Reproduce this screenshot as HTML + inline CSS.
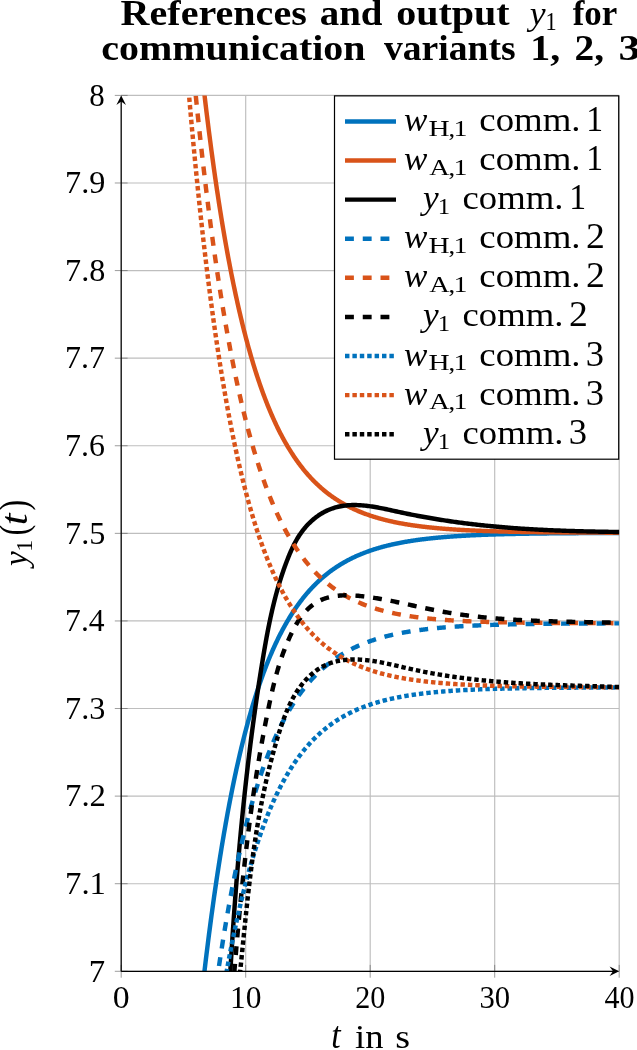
<!DOCTYPE html>
<html><head><meta charset="utf-8"><title>References and output</title>
<style>html,body{margin:0;padding:0;background:#fff}svg{display:block}</style></head>
<body>
<svg width="637" height="1050" viewBox="0 0 637 1050">
<rect width="637" height="1050" fill="#fff"/>
<defs><clipPath id="c"><rect x="121.2" y="95.4" width="498.00000000000006" height="875.9"/></clipPath></defs>
<path d="M121.20 95.4 V971.3 M245.70 95.4 V971.3 M370.20 95.4 V971.3 M494.70 95.4 V971.3 M619.20 95.4 V971.3 M121.2 971.30 H619.2 M121.2 883.71 H619.2 M121.2 796.12 H619.2 M121.2 708.53 H619.2 M121.2 620.94 H619.2 M121.2 533.35 H619.2 M121.2 445.76 H619.2 M121.2 358.17 H619.2 M121.2 270.58 H619.2 M121.2 182.99 H619.2 M121.2 95.40 H619.2" stroke="#bebebe" stroke-width="1.15" fill="none"/>
<path d="M121.20 964.9 V977.6999999999999 M245.70 964.9 V977.6999999999999 M370.20 964.9 V977.6999999999999 M494.70 964.9 V977.6999999999999 M619.20 964.9 V977.6999999999999 M114.8 971.30 H127.60000000000001 M114.8 883.71 H127.60000000000001 M114.8 796.12 H127.60000000000001 M114.8 708.53 H127.60000000000001 M114.8 620.94 H127.60000000000001 M114.8 533.35 H127.60000000000001 M114.8 445.76 H127.60000000000001 M114.8 358.17 H127.60000000000001 M114.8 270.58 H127.60000000000001 M114.8 182.99 H127.60000000000001 M114.8 95.40 H127.60000000000001" stroke="#5a5a5a" stroke-width="0.6" fill="none"/>
<g clip-path="url(#c)" fill="none" stroke-width="4.45" stroke-linejoin="round">
<path d="M195.28 1056.34 L195.90 1050.08 L196.52 1043.90 L197.15 1037.79 L197.77 1031.76 L198.39 1025.79 L199.01 1019.90 L199.64 1014.08 L200.26 1008.32 L200.88 1002.64 L201.50 997.03 L202.12 991.48 L202.75 985.99 L203.37 980.58 L203.99 975.23 L204.62 969.94 L205.24 964.71 L205.86 959.55 L206.48 954.45 L207.11 949.41 L207.73 944.43 L208.35 939.51 L208.97 934.65 L209.60 929.85 L210.22 925.10 L210.84 920.41 L211.46 915.78 L212.09 911.20 L212.71 906.68 L213.33 902.21 L213.95 897.80 L214.58 893.43 L215.20 889.12 L215.82 884.86 L216.44 880.66 L217.06 876.50 L217.69 872.39 L218.31 868.33 L218.93 864.32 L219.56 860.36 L220.18 856.44 L220.80 852.58 L221.42 848.75 L222.05 844.98 L222.67 841.25 L223.29 837.56 L223.91 833.92 L224.54 830.32 L225.16 826.76 L225.78 823.25 L226.40 819.78 L227.03 816.35 L227.65 812.96 L228.27 809.61 L228.89 806.30 L229.52 803.03 L230.14 799.80 L230.76 796.61 L231.38 793.46 L232.01 790.34 L232.63 787.27 L233.25 784.22 L233.87 781.22 L234.50 778.25 L235.12 775.32 L235.74 772.42 L236.36 769.55 L236.99 766.72 L237.61 763.93 L238.23 761.17 L238.85 758.44 L239.48 755.74 L240.10 753.08 L240.72 750.44 L241.34 747.84 L241.97 745.27 L242.59 742.73 L243.21 740.22 L243.83 737.74 L244.46 735.29 L245.08 732.87 L245.70 730.48 L246.32 728.12 L246.95 725.79 L247.57 723.48 L248.19 721.20 L248.81 718.95 L249.44 716.72 L250.06 714.53 L250.68 712.35 L251.30 710.21 L251.93 708.09 L252.55 705.99 L253.17 703.92 L253.79 701.88 L254.42 699.86 L255.04 697.86 L255.66 695.89 L256.28 693.94 L256.91 692.01 L257.53 690.11 L258.15 688.23 L258.77 686.37 L259.40 684.54 L260.02 682.72 L260.64 680.93 L261.26 679.16 L261.88 677.41 L262.51 675.68 L263.13 673.98 L263.75 672.29 L264.38 670.62 L265.00 668.98 L265.62 667.35 L266.24 665.74 L266.87 664.15 L267.49 662.58 L268.11 661.03 L268.73 659.50 L269.36 657.98 L269.98 656.49 L270.60 655.01 L271.22 653.55 L271.85 652.11 L272.47 650.68 L273.09 649.27 L273.71 647.88 L274.34 646.51 L274.96 645.15 L275.58 643.80 L276.20 642.48 L276.83 641.17 L277.45 639.87 L278.07 638.59 L278.69 637.33 L279.32 636.08 L279.94 634.84 L280.56 633.62 L281.18 632.42 L281.81 631.23 L282.43 630.05 L283.05 628.89 L283.67 627.74 L284.30 626.61 L284.92 625.49 L285.54 624.38 L286.16 623.29 L286.79 622.20 L287.41 621.14 L288.03 620.08 L288.65 619.04 L289.28 618.01 L289.90 616.99 L290.52 615.98 L291.14 614.99 L291.77 614.01 L292.39 613.04 L293.01 612.08 L293.63 611.13 L294.25 610.19 L294.88 609.27 L295.50 608.36 L296.12 607.45 L296.75 606.56 L297.37 605.68 L297.99 604.81 L298.61 603.95 L299.24 603.10 L299.86 602.26 L300.48 601.43 L301.10 600.61 L301.73 599.80 L302.35 599.00 L302.97 598.21 L303.59 597.42 L304.22 596.65 L304.84 595.89 L305.46 595.14 L306.08 594.39 L306.71 593.66 L307.33 592.93 L307.95 592.21 L308.57 591.50 L309.20 590.80 L309.82 590.11 L310.44 589.42 L311.06 588.74 L311.69 588.08 L312.31 587.42 L312.93 586.76 L313.55 586.12 L314.18 585.48 L314.80 584.85 L315.42 584.23 L316.04 583.62 L316.67 583.01 L317.29 582.41 L317.91 581.82 L318.53 581.23 L319.16 580.65 L319.78 580.08 L320.40 579.52 L321.02 578.96 L321.65 578.41 L322.27 577.86 L322.89 577.32 L323.51 576.79 L324.14 576.26 L324.76 575.75 L325.38 575.23 L326.00 574.73 L326.63 574.22 L327.25 573.73 L327.87 573.24 L328.49 572.76 L329.12 572.28 L329.74 571.81 L330.36 571.34 L330.98 570.88 L331.61 570.43 L332.23 569.98 L332.85 569.53 L333.47 569.10 L334.10 568.66 L334.72 568.23 L335.34 567.81 L335.96 567.39 L336.59 566.98 L337.21 566.57 L337.83 566.17 L338.45 565.77 L339.08 565.37 L339.70 564.99 L340.32 564.60 L340.94 564.22 L341.56 563.85 L342.19 563.48 L342.81 563.11 L343.43 562.75 L344.06 562.39 L344.68 562.04 L345.30 561.69 L345.92 561.34 L346.55 561.00 L347.17 560.66 L347.79 560.33 L348.41 560.00 L349.04 559.68 L349.66 559.36 L350.28 559.04 L350.90 558.73 L351.53 558.42 L352.15 558.11 L352.77 557.81 L353.39 557.51 L354.01 557.21 L354.64 556.92 L355.26 556.64 L355.88 556.35 L356.51 556.07 L357.13 555.79 L357.75 555.52 L358.37 555.25 L359.00 554.98 L359.62 554.71 L360.24 554.45 L360.86 554.19 L361.49 553.94 L362.11 553.69 L362.73 553.44 L363.35 553.19 L363.98 552.95 L364.60 552.71 L365.22 552.47 L365.84 552.23 L366.47 552.00 L367.09 551.77 L367.71 551.55 L368.33 551.32 L368.96 551.10 L369.58 550.88 L370.20 550.67 L370.82 550.45 L371.45 550.24 L372.07 550.03 L372.69 549.83 L373.31 549.63 L373.94 549.42 L374.56 549.23 L375.18 549.03 L375.80 548.84 L376.43 548.64 L377.05 548.46 L377.67 548.27 L378.29 548.08 L378.92 547.90 L379.54 547.72 L380.16 547.54 L380.78 547.37 L381.41 547.19 L382.03 547.02 L382.65 546.85 L383.27 546.68 L383.90 546.52 L384.52 546.36 L385.14 546.19 L385.76 546.03 L386.39 545.88 L387.01 545.72 L387.63 545.57 L388.25 545.41 L388.88 545.26 L389.50 545.11 L390.12 544.97 L390.74 544.82 L391.37 544.68 L391.99 544.54 L392.61 544.40 L393.23 544.26 L393.86 544.12 L394.48 543.99 L395.10 543.85 L395.72 543.72 L396.35 543.59 L396.97 543.46 L397.59 543.34 L398.21 543.21 L398.84 543.09 L399.46 542.96 L400.08 542.84 L400.70 542.72 L401.33 542.60 L401.95 542.49 L402.57 542.37 L403.19 542.26 L403.82 542.14 L404.44 542.03 L405.06 541.92 L405.68 541.81 L406.31 541.71 L406.93 541.60 L407.55 541.50 L408.17 541.39 L408.80 541.29 L409.42 541.19 L410.04 541.09 L410.66 540.99 L411.29 540.89 L411.91 540.80 L412.53 540.70 L413.15 540.61 L413.78 540.51 L414.40 540.42 L415.02 540.33 L415.64 540.24 L416.27 540.15 L416.89 540.06 L417.51 539.98 L418.13 539.89 L418.76 539.81 L419.38 539.72 L420.00 539.64 L420.62 539.56 L421.25 539.48 L421.87 539.40 L422.49 539.32 L423.11 539.24 L423.74 539.17 L424.36 539.09 L424.98 539.02 L425.60 538.94 L426.23 538.87 L426.85 538.80 L427.47 538.73 L428.09 538.66 L428.72 538.59 L429.34 538.52 L429.96 538.45 L430.58 538.38 L431.21 538.32 L431.83 538.25 L432.45 538.18 L433.07 538.12 L433.70 538.06 L434.32 537.99 L434.94 537.93 L435.56 537.87 L436.19 537.81 L436.81 537.75 L437.43 537.69 L438.05 537.64 L438.68 537.58 L439.30 537.52 L439.92 537.46 L440.54 537.41 L441.17 537.35 L441.79 537.30 L442.41 537.25 L443.03 537.19 L443.66 537.14 L444.28 537.09 L444.90 537.04 L445.52 536.99 L446.15 536.94 L446.77 536.89 L447.39 536.84 L448.01 536.79 L448.64 536.75 L449.26 536.70 L449.88 536.65 L450.50 536.61 L451.13 536.56 L451.75 536.52 L452.37 536.47 L452.99 536.43 L453.62 536.39 L454.24 536.34 L454.86 536.30 L455.48 536.26 L456.11 536.22 L456.73 536.18 L457.35 536.14 L457.97 536.10 L458.60 536.06 L459.22 536.02 L459.84 535.98 L460.46 535.94 L461.09 535.91 L461.71 535.87 L462.33 535.83 L462.95 535.80 L463.58 535.76 L464.20 535.73 L464.82 535.69 L465.44 535.66 L466.07 535.62 L466.69 535.59 L467.31 535.56 L467.93 535.53 L468.56 535.49 L469.18 535.46 L469.80 535.43 L470.42 535.40 L471.05 535.37 L471.67 535.34 L472.29 535.31 L472.91 535.28 L473.54 535.25 L474.16 535.22 L474.78 535.19 L475.40 535.16 L476.03 535.13 L476.65 535.11 L477.27 535.08 L477.89 535.05 L478.52 535.03 L479.14 535.00 L479.76 534.97 L480.38 534.95 L481.01 534.92 L481.63 534.90 L482.25 534.87 L482.87 534.85 L483.50 534.82 L484.12 534.80 L484.74 534.78 L485.36 534.75 L485.99 534.73 L486.61 534.71 L487.23 534.68 L487.85 534.66 L488.48 534.64 L489.10 534.62 L489.72 534.60 L490.34 534.58 L490.97 534.56 L491.59 534.53 L492.21 534.51 L492.83 534.49 L493.46 534.47 L494.08 534.45 L494.70 534.43 L495.32 534.42 L495.95 534.40 L496.57 534.38 L497.19 534.36 L497.81 534.34 L498.44 534.32 L499.06 534.30 L499.68 534.29 L500.30 534.27 L500.93 534.25 L501.55 534.24 L502.17 534.22 L502.79 534.20 L503.42 534.19 L504.04 534.17 L504.66 534.15 L505.28 534.14 L505.91 534.12 L506.53 534.11 L507.15 534.09 L507.77 534.08 L508.40 534.06 L509.02 534.05 L509.64 534.03 L510.26 534.02 L510.89 534.00 L511.51 533.99 L512.13 533.97 L512.75 533.96 L513.38 533.95 L514.00 533.93 L514.62 533.92 L515.24 533.91 L515.87 533.89 L516.49 533.88 L517.11 533.87 L517.73 533.86 L518.36 533.84 L518.98 533.83 L519.60 533.82 L520.22 533.81 L520.85 533.80 L521.47 533.78 L522.09 533.77 L522.71 533.76 L523.34 533.75 L523.96 533.74 L524.58 533.73 L525.20 533.72 L525.83 533.71 L526.45 533.70 L527.07 533.69 L527.69 533.68 L528.32 533.67 L528.94 533.66 L529.56 533.65 L530.18 533.64 L530.81 533.63 L531.43 533.62 L532.05 533.61 L532.67 533.60 L533.30 533.59 L533.92 533.58 L534.54 533.57 L535.16 533.56 L535.79 533.55 L536.41 533.54 L537.03 533.54 L537.65 533.53 L538.28 533.52 L538.90 533.51 L539.52 533.50 L540.14 533.49 L540.77 533.49 L541.39 533.48 L542.01 533.47 L542.63 533.46 L543.25 533.45 L543.88 533.45 L544.50 533.44 L545.12 533.43 L545.75 533.43 L546.37 533.42 L546.99 533.41 L547.61 533.40 L548.24 533.40 L548.86 533.39 L549.48 533.38 L550.10 533.38 L550.73 533.37 L551.35 533.36 L551.97 533.36 L552.59 533.35 L553.22 533.34 L553.84 533.34 L554.46 533.33 L555.08 533.33 L555.71 533.32 L556.33 533.31 L556.95 533.31 L557.57 533.30 L558.20 533.30 L558.82 533.29 L559.44 533.29 L560.06 533.28 L560.69 533.27 L561.31 533.27 L561.93 533.26 L562.55 533.26 L563.18 533.25 L563.80 533.25 L564.42 533.24 L565.04 533.24 L565.67 533.23 L566.29 533.23 L566.91 533.22 L567.53 533.22 L568.16 533.21 L568.78 533.21 L569.40 533.20 L570.02 533.20 L570.65 533.20 L571.27 533.19 L571.89 533.19 L572.51 533.18 L573.14 533.18 L573.76 533.17 L574.38 533.17 L575.00 533.17 L575.63 533.16 L576.25 533.16 L576.87 533.15 L577.49 533.15 L578.12 533.15 L578.74 533.14 L579.36 533.14 L579.98 533.13 L580.61 533.13 L581.23 533.13 L581.85 533.12 L582.47 533.12 L583.10 533.12 L583.72 533.11 L584.34 533.11 L584.96 533.11 L585.59 533.10 L586.21 533.10 L586.83 533.10 L587.45 533.09 L588.08 533.09 L588.70 533.09 L589.32 533.08 L589.94 533.08 L590.57 533.08 L591.19 533.07 L591.81 533.07 L592.43 533.07 L593.06 533.07 L593.68 533.06 L594.30 533.06 L594.92 533.06 L595.55 533.05 L596.17 533.05 L596.79 533.05 L597.41 533.05 L598.04 533.04 L598.66 533.04 L599.28 533.04 L599.90 533.04 L600.53 533.03 L601.15 533.03 L601.77 533.03 L602.39 533.03 L603.02 533.02 L603.64 533.02 L604.26 533.02 L604.88 533.02 L605.51 533.01 L606.13 533.01 L606.75 533.01 L607.37 533.01 L608.00 533.00 L608.62 533.00 L609.24 533.00 L609.86 533.00 L610.49 533.00 L611.11 532.99 L611.73 532.99 L612.35 532.99 L612.98 532.99 L613.60 532.99 L614.22 532.98 L614.84 532.98 L615.47 532.98 L616.09 532.98 L616.71 532.98 L617.33 532.98 L617.96 532.97 L618.58 532.97 L619.20 532.97" stroke="#0072BD"/>
<path d="M195.28 8.79 L195.90 15.11 L196.52 21.37 L197.15 27.54 L197.77 33.64 L198.39 39.67 L199.01 45.63 L199.64 51.51 L200.26 57.32 L200.88 63.07 L201.50 68.74 L202.12 74.34 L202.75 79.88 L203.37 85.35 L203.99 90.76 L204.62 96.09 L205.24 101.37 L205.86 106.58 L206.48 111.73 L207.11 116.81 L207.73 121.84 L208.35 126.80 L208.97 131.70 L209.60 136.55 L210.22 141.33 L210.84 146.06 L211.46 150.73 L212.09 155.35 L212.71 159.90 L213.33 164.41 L213.95 168.86 L214.58 173.25 L215.20 177.59 L215.82 181.88 L216.44 186.12 L217.06 190.31 L217.69 194.45 L218.31 198.53 L218.93 202.57 L219.56 206.56 L220.18 210.50 L220.80 214.39 L221.42 218.24 L222.05 222.03 L222.67 225.79 L223.29 229.50 L223.91 233.16 L224.54 236.78 L225.16 240.35 L225.78 243.89 L226.40 247.37 L227.03 250.82 L227.65 254.23 L228.27 257.59 L228.89 260.92 L229.52 264.20 L230.14 267.44 L230.76 270.65 L231.38 273.81 L232.01 276.94 L232.63 280.03 L233.25 283.09 L233.87 286.10 L234.50 289.08 L235.12 292.02 L235.74 294.93 L236.36 297.81 L236.99 300.64 L237.61 303.45 L238.23 306.22 L238.85 308.95 L239.48 311.66 L240.10 314.33 L240.72 316.97 L241.34 319.57 L241.97 322.15 L242.59 324.69 L243.21 327.21 L243.83 329.69 L244.46 332.14 L245.08 334.57 L245.70 336.96 L246.32 339.33 L246.95 341.66 L247.57 343.97 L248.19 346.25 L248.81 348.51 L249.44 350.73 L250.06 352.93 L250.68 355.10 L251.30 357.25 L251.93 359.37 L252.55 361.46 L253.17 363.53 L253.79 365.58 L254.42 367.60 L255.04 369.59 L255.66 371.56 L256.28 373.51 L256.91 375.44 L257.53 377.34 L258.15 379.21 L258.77 381.07 L259.40 382.90 L260.02 384.71 L260.64 386.50 L261.26 388.27 L261.88 390.01 L262.51 391.74 L263.13 393.44 L263.75 395.13 L264.38 396.79 L265.00 398.43 L265.62 400.05 L266.24 401.66 L266.87 403.24 L267.49 404.81 L268.11 406.35 L268.73 407.88 L269.36 409.39 L269.98 410.88 L270.60 412.35 L271.22 413.81 L271.85 415.24 L272.47 416.66 L273.09 418.07 L273.71 419.45 L274.34 420.82 L274.96 422.18 L275.58 423.51 L276.20 424.83 L276.83 426.14 L277.45 427.42 L278.07 428.70 L278.69 429.95 L279.32 431.20 L279.94 432.42 L280.56 433.64 L281.18 434.83 L281.81 436.02 L282.43 437.19 L283.05 438.34 L283.67 439.48 L284.30 440.61 L284.92 441.72 L285.54 442.82 L286.16 443.91 L286.79 444.98 L287.41 446.05 L288.03 447.09 L288.65 448.13 L289.28 449.15 L289.90 450.16 L290.52 451.16 L291.14 452.15 L291.77 453.12 L292.39 454.08 L293.01 455.03 L293.63 455.97 L294.25 456.90 L294.88 457.82 L295.50 458.72 L296.12 459.62 L296.75 460.50 L297.37 461.38 L297.99 462.24 L298.61 463.09 L299.24 463.93 L299.86 464.77 L300.48 465.59 L301.10 466.40 L301.73 467.20 L302.35 467.99 L302.97 468.78 L303.59 469.55 L304.22 470.32 L304.84 471.07 L305.46 471.82 L306.08 472.55 L306.71 473.28 L307.33 474.00 L307.95 474.71 L308.57 475.41 L309.20 476.11 L309.82 476.79 L310.44 477.47 L311.06 478.14 L311.69 478.80 L312.31 479.45 L312.93 480.09 L313.55 480.73 L314.18 481.36 L314.80 481.98 L315.42 482.59 L316.04 483.20 L316.67 483.80 L317.29 484.39 L317.91 484.98 L318.53 485.55 L319.16 486.13 L319.78 486.69 L320.40 487.25 L321.02 487.80 L321.65 488.34 L322.27 488.88 L322.89 489.41 L323.51 489.93 L324.14 490.45 L324.76 490.96 L325.38 491.47 L326.00 491.97 L326.63 492.46 L327.25 492.95 L327.87 493.43 L328.49 493.91 L329.12 494.38 L329.74 494.84 L330.36 495.30 L330.98 495.75 L331.61 496.20 L332.23 496.64 L332.85 497.08 L333.47 497.51 L334.10 497.94 L334.72 498.36 L335.34 498.77 L335.96 499.19 L336.59 499.59 L337.21 499.99 L337.83 500.39 L338.45 500.78 L339.08 501.17 L339.70 501.55 L340.32 501.93 L340.94 502.30 L341.56 502.67 L342.19 503.03 L342.81 503.39 L343.43 503.75 L344.06 504.10 L344.68 504.45 L345.30 504.79 L345.92 505.13 L346.55 505.46 L347.17 505.79 L347.79 506.12 L348.41 506.44 L349.04 506.76 L349.66 507.08 L350.28 507.39 L350.90 507.69 L351.53 508.00 L352.15 508.30 L352.77 508.59 L353.39 508.89 L354.01 509.18 L354.64 509.46 L355.26 509.74 L355.88 510.02 L356.51 510.30 L357.13 510.57 L357.75 510.84 L358.37 511.10 L359.00 511.37 L359.62 511.63 L360.24 511.88 L360.86 512.13 L361.49 512.38 L362.11 512.63 L362.73 512.87 L363.35 513.12 L363.98 513.35 L364.60 513.59 L365.22 513.82 L365.84 514.05 L366.47 514.28 L367.09 514.50 L367.71 514.72 L368.33 514.94 L368.96 515.16 L369.58 515.37 L370.20 515.58 L370.82 515.79 L371.45 516.00 L372.07 516.20 L372.69 516.40 L373.31 516.60 L373.94 516.79 L374.56 516.99 L375.18 517.18 L375.80 517.37 L376.43 517.55 L377.05 517.74 L377.67 517.92 L378.29 518.10 L378.92 518.28 L379.54 518.45 L380.16 518.63 L380.78 518.80 L381.41 518.97 L382.03 519.14 L382.65 519.30 L383.27 519.46 L383.90 519.63 L384.52 519.79 L385.14 519.94 L385.76 520.10 L386.39 520.25 L387.01 520.40 L387.63 520.55 L388.25 520.70 L388.88 520.85 L389.50 520.99 L390.12 521.14 L390.74 521.28 L391.37 521.42 L391.99 521.55 L392.61 521.69 L393.23 521.82 L393.86 521.96 L394.48 522.09 L395.10 522.22 L395.72 522.35 L396.35 522.47 L396.97 522.60 L397.59 522.72 L398.21 522.84 L398.84 522.96 L399.46 523.08 L400.08 523.20 L400.70 523.32 L401.33 523.43 L401.95 523.55 L402.57 523.66 L403.19 523.77 L403.82 523.88 L404.44 523.99 L405.06 524.09 L405.68 524.20 L406.31 524.30 L406.93 524.40 L407.55 524.51 L408.17 524.61 L408.80 524.71 L409.42 524.80 L410.04 524.90 L410.66 525.00 L411.29 525.09 L411.91 525.18 L412.53 525.28 L413.15 525.37 L413.78 525.46 L414.40 525.55 L415.02 525.64 L415.64 525.72 L416.27 525.81 L416.89 525.89 L417.51 525.98 L418.13 526.06 L418.76 526.14 L419.38 526.22 L420.00 526.30 L420.62 526.38 L421.25 526.46 L421.87 526.53 L422.49 526.61 L423.11 526.69 L423.74 526.76 L424.36 526.83 L424.98 526.91 L425.60 526.98 L426.23 527.05 L426.85 527.12 L427.47 527.19 L428.09 527.25 L428.72 527.32 L429.34 527.39 L429.96 527.45 L430.58 527.52 L431.21 527.58 L431.83 527.65 L432.45 527.71 L433.07 527.77 L433.70 527.83 L434.32 527.89 L434.94 527.95 L435.56 528.01 L436.19 528.07 L436.81 528.13 L437.43 528.18 L438.05 528.24 L438.68 528.29 L439.30 528.35 L439.92 528.40 L440.54 528.46 L441.17 528.51 L441.79 528.56 L442.41 528.61 L443.03 528.66 L443.66 528.71 L444.28 528.76 L444.90 528.81 L445.52 528.86 L446.15 528.91 L446.77 528.96 L447.39 529.00 L448.01 529.05 L448.64 529.09 L449.26 529.14 L449.88 529.18 L450.50 529.23 L451.13 529.27 L451.75 529.31 L452.37 529.36 L452.99 529.40 L453.62 529.44 L454.24 529.48 L454.86 529.52 L455.48 529.56 L456.11 529.60 L456.73 529.64 L457.35 529.68 L457.97 529.72 L458.60 529.75 L459.22 529.79 L459.84 529.83 L460.46 529.86 L461.09 529.90 L461.71 529.93 L462.33 529.97 L462.95 530.00 L463.58 530.04 L464.20 530.07 L464.82 530.10 L465.44 530.14 L466.07 530.17 L466.69 530.20 L467.31 530.23 L467.93 530.26 L468.56 530.30 L469.18 530.33 L469.80 530.36 L470.42 530.39 L471.05 530.42 L471.67 530.44 L472.29 530.47 L472.91 530.50 L473.54 530.53 L474.16 530.56 L474.78 530.59 L475.40 530.61 L476.03 530.64 L476.65 530.67 L477.27 530.69 L477.89 530.72 L478.52 530.74 L479.14 530.77 L479.76 530.79 L480.38 530.82 L481.01 530.84 L481.63 530.87 L482.25 530.89 L482.87 530.91 L483.50 530.94 L484.12 530.96 L484.74 530.98 L485.36 531.00 L485.99 531.02 L486.61 531.05 L487.23 531.07 L487.85 531.09 L488.48 531.11 L489.10 531.13 L489.72 531.15 L490.34 531.17 L490.97 531.19 L491.59 531.21 L492.21 531.23 L492.83 531.25 L493.46 531.27 L494.08 531.29 L494.70 531.31 L495.32 531.32 L495.95 531.34 L496.57 531.36 L497.19 531.38 L497.81 531.40 L498.44 531.41 L499.06 531.43 L499.68 531.45 L500.30 531.46 L500.93 531.48 L501.55 531.50 L502.17 531.51 L502.79 531.53 L503.42 531.54 L504.04 531.56 L504.66 531.57 L505.28 531.59 L505.91 531.60 L506.53 531.62 L507.15 531.63 L507.77 531.65 L508.40 531.66 L509.02 531.68 L509.64 531.69 L510.26 531.70 L510.89 531.72 L511.51 531.73 L512.13 531.74 L512.75 531.76 L513.38 531.77 L514.00 531.78 L514.62 531.80 L515.24 531.81 L515.87 531.82 L516.49 531.83 L517.11 531.84 L517.73 531.86 L518.36 531.87 L518.98 531.88 L519.60 531.89 L520.22 531.90 L520.85 531.91 L521.47 531.92 L522.09 531.94 L522.71 531.95 L523.34 531.96 L523.96 531.97 L524.58 531.98 L525.20 531.99 L525.83 532.00 L526.45 532.01 L527.07 532.02 L527.69 532.03 L528.32 532.04 L528.94 532.05 L529.56 532.06 L530.18 532.06 L530.81 532.07 L531.43 532.08 L532.05 532.09 L532.67 532.10 L533.30 532.11 L533.92 532.12 L534.54 532.13 L535.16 532.14 L535.79 532.14 L536.41 532.15 L537.03 532.16 L537.65 532.17 L538.28 532.18 L538.90 532.18 L539.52 532.19 L540.14 532.20 L540.77 532.21 L541.39 532.21 L542.01 532.22 L542.63 532.23 L543.25 532.24 L543.88 532.24 L544.50 532.25 L545.12 532.26 L545.75 532.26 L546.37 532.27 L546.99 532.28 L547.61 532.28 L548.24 532.29 L548.86 532.30 L549.48 532.30 L550.10 532.31 L550.73 532.32 L551.35 532.32 L551.97 532.33 L552.59 532.33 L553.22 532.34 L553.84 532.35 L554.46 532.35 L555.08 532.36 L555.71 532.36 L556.33 532.37 L556.95 532.37 L557.57 532.38 L558.20 532.38 L558.82 532.39 L559.44 532.40 L560.06 532.40 L560.69 532.41 L561.31 532.41 L561.93 532.42 L562.55 532.42 L563.18 532.43 L563.80 532.43 L564.42 532.44 L565.04 532.44 L565.67 532.44 L566.29 532.45 L566.91 532.45 L567.53 532.46 L568.16 532.46 L568.78 532.47 L569.40 532.47 L570.02 532.48 L570.65 532.48 L571.27 532.48 L571.89 532.49 L572.51 532.49 L573.14 532.50 L573.76 532.50 L574.38 532.50 L575.00 532.51 L575.63 532.51 L576.25 532.52 L576.87 532.52 L577.49 532.52 L578.12 532.53 L578.74 532.53 L579.36 532.53 L579.98 532.54 L580.61 532.54 L581.23 532.54 L581.85 532.55 L582.47 532.55 L583.10 532.55 L583.72 532.56 L584.34 532.56 L584.96 532.56 L585.59 532.57 L586.21 532.57 L586.83 532.57 L587.45 532.58 L588.08 532.58 L588.70 532.58 L589.32 532.59 L589.94 532.59 L590.57 532.59 L591.19 532.59 L591.81 532.60 L592.43 532.60 L593.06 532.60 L593.68 532.60 L594.30 532.61 L594.92 532.61 L595.55 532.61 L596.17 532.61 L596.79 532.62 L597.41 532.62 L598.04 532.62 L598.66 532.62 L599.28 532.63 L599.90 532.63 L600.53 532.63 L601.15 532.63 L601.77 532.64 L602.39 532.64 L603.02 532.64 L603.64 532.64 L604.26 532.65 L604.88 532.65 L605.51 532.65 L606.13 532.65 L606.75 532.65 L607.37 532.66 L608.00 532.66 L608.62 532.66 L609.24 532.66 L609.86 532.66 L610.49 532.67 L611.11 532.67 L611.73 532.67 L612.35 532.67 L612.98 532.67 L613.60 532.68 L614.22 532.68 L614.84 532.68 L615.47 532.68 L616.09 532.68 L616.71 532.68 L617.33 532.69 L617.96 532.69 L618.58 532.69 L619.20 532.69" stroke="#D95319"/>
<path d="M225.78 1058.71 L225.85 1057.27 L225.92 1055.83 L225.99 1054.38 L226.05 1052.94 L226.12 1051.50 L226.19 1050.06 L226.26 1048.62 L226.33 1047.18 L226.40 1045.74 L226.46 1044.30 L226.53 1042.86 L226.60 1041.42 L226.67 1039.98 L226.74 1038.53 L226.81 1037.09 L226.88 1035.65 L226.96 1034.21 L227.03 1032.77 L227.10 1031.33 L227.17 1029.89 L227.24 1028.45 L227.31 1027.01 L227.39 1025.56 L227.46 1024.12 L227.53 1022.68 L227.61 1021.24 L227.68 1019.80 L227.75 1018.36 L227.83 1016.92 L227.90 1015.47 L227.98 1014.03 L228.05 1012.59 L228.13 1011.15 L228.20 1009.71 L228.28 1008.27 L228.36 1006.83 L228.43 1005.38 L228.51 1003.94 L228.59 1002.50 L228.66 1001.06 L228.74 999.62 L228.82 998.18 L228.90 996.73 L228.98 995.29 L229.06 993.85 L229.14 992.41 L229.22 990.97 L229.30 989.53 L229.38 988.08 L229.46 986.64 L229.54 985.20 L229.62 983.76 L229.70 982.32 L229.79 980.88 L229.87 979.43 L229.95 977.99 L230.04 976.55 L230.12 975.11 L230.21 973.67 L230.29 972.23 L230.38 970.78 L230.46 969.34 L230.55 967.90 L230.63 966.46 L230.72 965.02 L230.81 963.58 L230.89 962.13 L230.98 960.69 L231.07 959.25 L231.16 957.81 L231.25 956.37 L231.34 954.93 L231.43 953.48 L231.52 952.04 L231.61 950.60 L231.70 949.16 L231.79 947.72 L231.88 946.28 L231.98 944.84 L232.07 943.39 L232.16 941.95 L232.26 940.51 L232.35 939.07 L232.44 937.63 L232.54 936.19 L232.64 934.75 L232.73 933.31 L232.83 931.86 L232.92 930.42 L233.02 928.98 L233.12 927.54 L233.22 926.10 L233.32 924.66 L233.42 923.22 L233.52 921.78 L233.62 920.34 L233.72 918.89 L233.82 917.45 L233.92 916.01 L234.02 914.57 L234.13 913.13 L234.23 911.69 L234.33 910.25 L234.44 908.81 L234.54 907.37 L234.65 905.93 L234.75 904.49 L234.86 903.05 L234.96 901.61 L235.07 900.17 L235.18 898.72 L235.29 897.28 L235.40 895.84 L235.51 894.40 L235.62 892.96 L235.73 891.52 L235.84 890.08 L235.95 888.64 L236.06 887.20 L236.17 885.76 L236.29 884.32 L236.40 882.88 L236.52 881.44 L236.63 880.00 L236.75 878.56 L236.86 877.12 L236.98 875.68 L237.10 874.25 L237.21 872.81 L237.33 871.37 L237.45 869.93 L237.57 868.49 L237.69 867.05 L237.81 865.61 L237.93 864.17 L238.05 862.73 L238.18 861.29 L238.30 859.85 L238.42 858.41 L238.55 856.98 L238.67 855.54 L238.80 854.10 L238.92 852.66 L239.05 851.22 L239.18 849.78 L239.31 848.34 L239.43 846.91 L239.56 845.47 L239.69 844.03 L239.82 842.59 L239.95 841.15 L240.09 839.72 L240.22 838.28 L240.35 836.84 L240.49 835.40 L240.62 833.96 L240.75 832.53 L240.89 831.09 L241.03 829.65 L241.16 828.22 L241.30 826.78 L241.44 825.34 L241.58 823.90 L241.72 822.47 L241.86 821.03 L242.00 819.59 L242.14 818.16 L242.28 816.72 L242.43 815.28 L242.57 813.85 L242.71 812.41 L242.86 810.97 L243.00 809.54 L243.15 808.10 L243.30 806.67 L243.45 805.23 L243.59 803.79 L243.74 802.36 L243.89 800.92 L244.04 799.49 L244.20 798.05 L244.35 796.62 L244.50 795.18 L244.65 793.75 L244.81 792.31 L244.96 790.88 L245.12 789.44 L245.28 788.01 L245.43 786.57 L245.59 785.14 L245.75 783.70 L245.91 782.27 L246.07 780.84 L246.23 779.40 L246.39 777.97 L246.56 776.53 L246.72 775.10 L246.88 773.67 L247.05 772.23 L247.21 770.80 L247.38 769.37 L247.55 767.93 L247.72 766.50 L247.88 765.07 L248.05 763.63 L248.22 762.20 L248.40 760.77 L248.57 759.34 L248.74 757.91 L248.91 756.47 L249.09 755.04 L249.26 753.61 L249.44 752.18 L249.62 750.75 L249.79 749.31 L249.97 747.88 L250.15 746.45 L250.33 745.02 L250.51 743.59 L250.69 742.16 L250.88 740.73 L251.06 739.30 L251.24 737.87 L251.43 736.44 L251.62 735.01 L251.80 733.58 L251.99 732.15 L252.18 730.72 L252.37 729.29 L252.56 727.86 L252.75 726.43 L252.94 725.00 L253.13 723.57 L253.33 722.14 L253.52 720.71 L253.72 719.28 L253.91 717.85 L254.11 716.42 L254.31 715.00 L254.51 713.57 L254.71 712.14 L254.91 710.71 L255.11 709.28 L255.31 707.86 L255.52 706.43 L255.72 705.00 L255.92 703.57 L256.13 702.15 L256.34 700.72 L256.55 699.29 L256.75 697.87 L256.96 696.44 L257.17 695.01 L257.39 693.59 L257.60 692.16 L257.81 690.74 L258.03 689.31 L258.24 687.89 L258.46 686.46 L258.68 685.04 L258.89 683.61 L259.11 682.19 L259.33 680.76 L259.55 679.34 L259.78 677.91 L260.00 676.49 L260.22 675.06 L260.45 673.64 L260.67 672.22 L260.90 670.79 L261.13 669.37 L261.36 667.95 L261.59 666.52 L261.82 665.10 L262.05 663.68 L262.28 662.26 L262.52 660.83 L262.75 659.41 L262.99 657.99 L263.22 656.57 L263.46 655.15 L263.70 653.72 L263.94 652.30 L264.18 650.88 L264.43 649.46 L264.67 648.04 L264.92 646.62 L265.17 645.20 L265.42 643.78 L265.67 642.36 L265.93 640.94 L266.18 639.53 L266.44 638.11 L266.71 636.69 L266.97 635.27 L267.24 633.86 L267.51 632.44 L267.78 631.02 L268.05 629.61 L268.33 628.19 L268.61 626.78 L268.90 625.36 L269.18 623.95 L269.47 622.54 L269.77 621.13 L270.07 619.71 L270.37 618.30 L270.67 616.89 L270.98 615.48 L271.29 614.07 L271.61 612.66 L271.93 611.25 L272.25 609.84 L272.58 608.44 L272.91 607.03 L273.25 605.62 L273.59 604.22 L273.94 602.81 L274.29 601.41 L274.64 600.01 L275.00 598.60 L275.36 597.20 L275.73 595.80 L276.11 594.40 L276.49 593.00 L276.87 591.60 L277.26 590.20 L277.66 588.81 L278.06 587.41 L278.47 586.02 L278.88 584.62 L279.30 583.23 L279.72 581.83 L280.15 580.44 L280.59 579.05 L281.03 577.66 L281.48 576.27 L281.94 574.88 L282.40 573.50 L282.87 572.11 L283.34 570.73 L283.82 569.34 L284.31 567.96 L284.80 566.58 L285.30 565.20 L285.81 563.82 L286.33 562.44 L286.85 561.06 L287.38 559.68 L287.92 558.31 L288.47 556.94 L289.03 555.57 L289.59 554.21 L290.17 552.85 L290.76 551.50 L291.36 550.16 L291.97 548.82 L292.60 547.49 L293.24 546.17 L293.89 544.86 L294.56 543.56 L295.24 542.28 L295.94 541.00 L296.65 539.74 L297.38 538.49 L298.13 537.25 L298.90 536.03 L299.68 534.83 L300.49 533.64 L301.31 532.47 L302.16 531.32 L303.02 530.18 L303.91 529.07 L304.81 527.97 L305.73 526.90 L306.67 525.84 L307.63 524.81 L308.60 523.79 L309.60 522.80 L310.61 521.83 L311.64 520.88 L312.69 519.96 L313.75 519.06 L314.83 518.18 L315.93 517.33 L317.04 516.50 L318.16 515.70 L319.31 514.93 L320.47 514.18 L321.64 513.46 L322.83 512.77 L324.03 512.10 L325.25 511.47 L326.48 510.86 L327.72 510.28 L328.98 509.74 L330.25 509.22 L331.53 508.73 L332.83 508.28 L334.14 507.86 L335.46 507.47 L336.79 507.11 L338.13 506.78 L339.49 506.49 L340.85 506.22 L342.22 505.98 L343.60 505.77 L344.98 505.59 L346.38 505.43 L347.77 505.30 L349.18 505.20 L350.59 505.12 L352.00 505.07 L353.42 505.05 L354.84 505.04 L356.26 505.06 L357.69 505.11 L359.12 505.17 L360.55 505.25 L361.98 505.36 L363.42 505.48 L364.86 505.62 L366.30 505.78 L367.74 505.95 L369.19 506.14 L370.64 506.35 L372.09 506.56 L373.54 506.79 L374.99 507.03 L376.44 507.29 L377.90 507.55 L379.35 507.82 L380.81 508.11 L382.27 508.40 L383.72 508.69 L385.18 508.99 L386.64 509.30 L388.10 509.61 L389.56 509.93 L391.02 510.25 L392.48 510.57 L393.93 510.89 L395.39 511.21 L396.85 511.53 L398.30 511.85 L399.76 512.16 L401.21 512.48 L402.66 512.79 L404.12 513.09 L405.57 513.40 L407.02 513.70 L408.46 513.99 L409.91 514.28 L411.36 514.57 L412.80 514.86 L414.25 515.14 L415.69 515.42 L417.13 515.70 L418.58 515.97 L420.02 516.25 L421.46 516.51 L422.90 516.78 L424.33 517.04 L425.77 517.30 L427.21 517.55 L428.64 517.80 L430.08 518.05 L431.51 518.30 L432.95 518.54 L434.38 518.78 L435.81 519.02 L437.24 519.25 L438.68 519.48 L440.11 519.71 L441.53 519.94 L442.96 520.16 L444.39 520.38 L445.82 520.60 L447.25 520.81 L448.67 521.02 L450.10 521.23 L451.53 521.44 L452.95 521.64 L454.38 521.84 L455.80 522.04 L457.22 522.24 L458.65 522.43 L460.07 522.62 L461.49 522.81 L462.92 522.99 L464.34 523.17 L465.76 523.35 L467.18 523.53 L468.60 523.71 L470.02 523.88 L471.44 524.05 L472.86 524.22 L474.28 524.38 L475.70 524.54 L477.12 524.70 L478.54 524.86 L479.96 525.02 L481.38 525.17 L482.80 525.32 L484.22 525.47 L485.64 525.62 L487.05 525.76 L488.47 525.90 L489.89 526.04 L491.31 526.18 L492.73 526.32 L494.15 526.45 L495.56 526.58 L496.98 526.71 L498.40 526.84 L499.82 526.96 L501.24 527.08 L502.66 527.21 L504.08 527.32 L505.50 527.44 L506.92 527.56 L508.34 527.67 L509.75 527.78 L511.17 527.89 L512.59 528.00 L514.02 528.10 L515.44 528.20 L516.86 528.31 L518.28 528.41 L519.70 528.50 L521.12 528.60 L522.54 528.69 L523.97 528.79 L525.39 528.88 L526.81 528.97 L528.24 529.05 L529.66 529.14 L531.09 529.22 L532.51 529.31 L533.94 529.39 L535.36 529.47 L536.79 529.54 L538.22 529.62 L539.64 529.69 L541.07 529.77 L542.50 529.84 L543.93 529.91 L545.36 529.98 L546.79 530.05 L548.22 530.11 L549.66 530.18 L551.09 530.24 L552.52 530.30 L553.96 530.36 L555.39 530.42 L556.83 530.48 L558.26 530.53 L559.70 530.59 L561.14 530.64 L562.58 530.70 L564.02 530.75 L565.46 530.80 L566.90 530.85 L568.34 530.90 L569.79 530.94 L571.23 530.99 L572.68 531.03 L574.12 531.08 L575.57 531.12 L577.02 531.16 L578.47 531.20 L579.92 531.24 L581.37 531.28 L582.82 531.32 L584.28 531.35 L585.73 531.39 L587.19 531.42 L588.64 531.46 L590.10 531.49 L591.56 531.52 L593.02 531.56 L594.48 531.59 L595.95 531.62 L597.41 531.65 L598.88 531.67 L600.34 531.70 L601.81 531.73 L603.28 531.75 L604.75 531.78 L606.22 531.80 L607.70 531.83 L609.17 531.85 L610.65 531.88 L612.13 531.90 L613.61 531.92 L615.09 531.94 L616.57 531.96 L618.05 531.98 L619.54 532.00" stroke="#000000"/>
<path d="M207.11 1055.61 L207.73 1050.39 L208.35 1045.23 L208.97 1040.13 L209.60 1035.10 L210.22 1030.12 L210.84 1025.21 L211.46 1020.35 L212.09 1015.56 L212.71 1010.82 L213.33 1006.14 L213.95 1001.51 L214.58 996.95 L215.20 992.43 L215.82 987.97 L216.44 983.57 L217.06 979.22 L217.69 974.92 L218.31 970.67 L218.93 966.47 L219.56 962.33 L220.18 958.23 L220.80 954.19 L221.42 950.19 L222.05 946.24 L222.67 942.34 L223.29 938.49 L223.91 934.68 L224.54 930.92 L225.16 927.20 L225.78 923.53 L226.40 919.91 L227.03 916.32 L227.65 912.78 L228.27 909.29 L228.89 905.83 L229.52 902.42 L230.14 899.05 L230.76 895.72 L231.38 892.42 L232.01 889.17 L232.63 885.96 L233.25 882.79 L233.87 879.65 L234.50 876.56 L235.12 873.50 L235.74 870.47 L236.36 867.49 L236.99 864.54 L237.61 861.62 L238.23 858.75 L238.85 855.90 L239.48 853.09 L240.10 850.32 L240.72 847.57 L241.34 844.86 L241.97 842.19 L242.59 839.54 L243.21 836.93 L243.83 834.35 L244.46 831.80 L245.08 829.28 L245.70 826.79 L246.32 824.33 L246.95 821.90 L247.57 819.50 L248.19 817.13 L248.81 814.79 L249.44 812.48 L250.06 810.19 L250.68 807.94 L251.30 805.70 L251.93 803.50 L252.55 801.32 L253.17 799.17 L253.79 797.05 L254.42 794.95 L255.04 792.87 L255.66 790.83 L256.28 788.80 L256.91 786.80 L257.53 784.83 L258.15 782.87 L258.77 780.95 L259.40 779.04 L260.02 777.16 L260.64 775.30 L261.26 773.46 L261.88 771.65 L262.51 769.86 L263.13 768.09 L263.75 766.34 L264.38 764.61 L265.00 762.90 L265.62 761.21 L266.24 759.55 L266.87 757.90 L267.49 756.27 L268.11 754.67 L268.73 753.08 L269.36 751.51 L269.98 749.96 L270.60 748.43 L271.22 746.92 L271.85 745.43 L272.47 743.95 L273.09 742.49 L273.71 741.05 L274.34 739.63 L274.96 738.22 L275.58 736.83 L276.20 735.46 L276.83 734.11 L277.45 732.77 L278.07 731.44 L278.69 730.14 L279.32 728.85 L279.94 727.57 L280.56 726.31 L281.18 725.07 L281.81 723.84 L282.43 722.62 L283.05 721.42 L283.67 720.23 L284.30 719.06 L284.92 717.90 L285.54 716.76 L286.16 715.63 L286.79 714.52 L287.41 713.41 L288.03 712.32 L288.65 711.25 L289.28 710.18 L289.90 709.13 L290.52 708.10 L291.14 707.07 L291.77 706.06 L292.39 705.06 L293.01 704.07 L293.63 703.09 L294.25 702.13 L294.88 701.18 L295.50 700.23 L296.12 699.30 L296.75 698.39 L297.37 697.48 L297.99 696.58 L298.61 695.70 L299.24 694.82 L299.86 693.96 L300.48 693.10 L301.10 692.26 L301.73 691.42 L302.35 690.60 L302.97 689.79 L303.59 688.98 L304.22 688.19 L304.84 687.40 L305.46 686.63 L306.08 685.86 L306.71 685.11 L307.33 684.36 L307.95 683.62 L308.57 682.89 L309.20 682.17 L309.82 681.46 L310.44 680.75 L311.06 680.06 L311.69 679.37 L312.31 678.70 L312.93 678.03 L313.55 677.36 L314.18 676.71 L314.80 676.06 L315.42 675.43 L316.04 674.79 L316.67 674.17 L317.29 673.56 L317.91 672.95 L318.53 672.35 L319.16 671.75 L319.78 671.17 L320.40 670.59 L321.02 670.02 L321.65 669.45 L322.27 668.89 L322.89 668.34 L323.51 667.80 L324.14 667.26 L324.76 666.73 L325.38 666.20 L326.00 665.68 L326.63 665.17 L327.25 664.66 L327.87 664.16 L328.49 663.67 L329.12 663.18 L329.74 662.70 L330.36 662.22 L330.98 661.75 L331.61 661.28 L332.23 660.82 L332.85 660.37 L333.47 659.92 L334.10 659.48 L334.72 659.04 L335.34 658.61 L335.96 658.18 L336.59 657.76 L337.21 657.34 L337.83 656.93 L338.45 656.52 L339.08 656.12 L339.70 655.72 L340.32 655.33 L340.94 654.94 L341.56 654.56 L342.19 654.18 L342.81 653.81 L343.43 653.44 L344.06 653.07 L344.68 652.71 L345.30 652.35 L345.92 652.00 L346.55 651.66 L347.17 651.31 L347.79 650.97 L348.41 650.64 L349.04 650.31 L349.66 649.98 L350.28 649.66 L350.90 649.34 L351.53 649.02 L352.15 648.71 L352.77 648.40 L353.39 648.10 L354.01 647.80 L354.64 647.50 L355.26 647.21 L355.88 646.92 L356.51 646.63 L357.13 646.35 L357.75 646.07 L358.37 645.79 L359.00 645.52 L359.62 645.25 L360.24 644.99 L360.86 644.72 L361.49 644.46 L362.11 644.21 L362.73 643.95 L363.35 643.70 L363.98 643.45 L364.60 643.21 L365.22 642.97 L365.84 642.73 L366.47 642.49 L367.09 642.26 L367.71 642.03 L368.33 641.80 L368.96 641.58 L369.58 641.36 L370.20 641.14 L370.82 640.92 L371.45 640.71 L372.07 640.50 L372.69 640.29 L373.31 640.08 L373.94 639.88 L374.56 639.68 L375.18 639.48 L375.80 639.28 L376.43 639.09 L377.05 638.90 L377.67 638.71 L378.29 638.52 L378.92 638.34 L379.54 638.15 L380.16 637.97 L380.78 637.79 L381.41 637.62 L382.03 637.44 L382.65 637.27 L383.27 637.10 L383.90 636.94 L384.52 636.77 L385.14 636.61 L385.76 636.44 L386.39 636.28 L387.01 636.13 L387.63 635.97 L388.25 635.82 L388.88 635.66 L389.50 635.51 L390.12 635.37 L390.74 635.22 L391.37 635.07 L391.99 634.93 L392.61 634.79 L393.23 634.65 L393.86 634.51 L394.48 634.38 L395.10 634.24 L395.72 634.11 L396.35 633.98 L396.97 633.85 L397.59 633.72 L398.21 633.59 L398.84 633.47 L399.46 633.34 L400.08 633.22 L400.70 633.10 L401.33 632.98 L401.95 632.86 L402.57 632.75 L403.19 632.63 L403.82 632.52 L404.44 632.40 L405.06 632.29 L405.68 632.18 L406.31 632.08 L406.93 631.97 L407.55 631.86 L408.17 631.76 L408.80 631.66 L409.42 631.55 L410.04 631.45 L410.66 631.35 L411.29 631.25 L411.91 631.16 L412.53 631.06 L413.15 630.97 L413.78 630.87 L414.40 630.78 L415.02 630.69 L415.64 630.60 L416.27 630.51 L416.89 630.42 L417.51 630.34 L418.13 630.25 L418.76 630.16 L419.38 630.08 L420.00 630.00 L420.62 629.92 L421.25 629.83 L421.87 629.76 L422.49 629.68 L423.11 629.60 L423.74 629.52 L424.36 629.44 L424.98 629.37 L425.60 629.30 L426.23 629.22 L426.85 629.15 L427.47 629.08 L428.09 629.01 L428.72 628.94 L429.34 628.87 L429.96 628.80 L430.58 628.73 L431.21 628.67 L431.83 628.60 L432.45 628.53 L433.07 628.47 L433.70 628.41 L434.32 628.34 L434.94 628.28 L435.56 628.22 L436.19 628.16 L436.81 628.10 L437.43 628.04 L438.05 627.98 L438.68 627.93 L439.30 627.87 L439.92 627.81 L440.54 627.76 L441.17 627.70 L441.79 627.65 L442.41 627.60 L443.03 627.54 L443.66 627.49 L444.28 627.44 L444.90 627.39 L445.52 627.34 L446.15 627.29 L446.77 627.24 L447.39 627.19 L448.01 627.14 L448.64 627.09 L449.26 627.05 L449.88 627.00 L450.50 626.96 L451.13 626.91 L451.75 626.87 L452.37 626.82 L452.99 626.78 L453.62 626.74 L454.24 626.69 L454.86 626.65 L455.48 626.61 L456.11 626.57 L456.73 626.53 L457.35 626.49 L457.97 626.45 L458.60 626.41 L459.22 626.37 L459.84 626.33 L460.46 626.30 L461.09 626.26 L461.71 626.22 L462.33 626.19 L462.95 626.15 L463.58 626.11 L464.20 626.08 L464.82 626.04 L465.44 626.01 L466.07 625.98 L466.69 625.94 L467.31 625.91 L467.93 625.88 L468.56 625.85 L469.18 625.81 L469.80 625.78 L470.42 625.75 L471.05 625.72 L471.67 625.69 L472.29 625.66 L472.91 625.63 L473.54 625.60 L474.16 625.57 L474.78 625.54 L475.40 625.52 L476.03 625.49 L476.65 625.46 L477.27 625.43 L477.89 625.41 L478.52 625.38 L479.14 625.36 L479.76 625.33 L480.38 625.30 L481.01 625.28 L481.63 625.25 L482.25 625.23 L482.87 625.20 L483.50 625.18 L484.12 625.16 L484.74 625.13 L485.36 625.11 L485.99 625.09 L486.61 625.07 L487.23 625.04 L487.85 625.02 L488.48 625.00 L489.10 624.98 L489.72 624.96 L490.34 624.94 L490.97 624.91 L491.59 624.89 L492.21 624.87 L492.83 624.85 L493.46 624.83 L494.08 624.81 L494.70 624.80 L495.32 624.78 L495.95 624.76 L496.57 624.74 L497.19 624.72 L497.81 624.70 L498.44 624.68 L499.06 624.67 L499.68 624.65 L500.30 624.63 L500.93 624.61 L501.55 624.60 L502.17 624.58 L502.79 624.56 L503.42 624.55 L504.04 624.53 L504.66 624.52 L505.28 624.50 L505.91 624.49 L506.53 624.47 L507.15 624.45 L507.77 624.44 L508.40 624.43 L509.02 624.41 L509.64 624.40 L510.26 624.38 L510.89 624.37 L511.51 624.35 L512.13 624.34 L512.75 624.33 L513.38 624.31 L514.00 624.30 L514.62 624.29 L515.24 624.27 L515.87 624.26 L516.49 624.25 L517.11 624.24 L517.73 624.22 L518.36 624.21 L518.98 624.20 L519.60 624.19 L520.22 624.18 L520.85 624.16 L521.47 624.15 L522.09 624.14 L522.71 624.13 L523.34 624.12 L523.96 624.11 L524.58 624.10 L525.20 624.09 L525.83 624.08 L526.45 624.07 L527.07 624.06 L527.69 624.05 L528.32 624.04 L528.94 624.03 L529.56 624.02 L530.18 624.01 L530.81 624.00 L531.43 623.99 L532.05 623.98 L532.67 623.97 L533.30 623.96 L533.92 623.95 L534.54 623.94 L535.16 623.93 L535.79 623.92 L536.41 623.92 L537.03 623.91 L537.65 623.90 L538.28 623.89 L538.90 623.88 L539.52 623.88 L540.14 623.87 L540.77 623.86 L541.39 623.85 L542.01 623.84 L542.63 623.84 L543.25 623.83 L543.88 623.82 L544.50 623.81 L545.12 623.81 L545.75 623.80 L546.37 623.79 L546.99 623.79 L547.61 623.78 L548.24 623.77 L548.86 623.77 L549.48 623.76 L550.10 623.75 L550.73 623.75 L551.35 623.74 L551.97 623.73 L552.59 623.73 L553.22 623.72 L553.84 623.71 L554.46 623.71 L555.08 623.70 L555.71 623.70 L556.33 623.69 L556.95 623.69 L557.57 623.68 L558.20 623.67 L558.82 623.67 L559.44 623.66 L560.06 623.66 L560.69 623.65 L561.31 623.65 L561.93 623.64 L562.55 623.64 L563.18 623.63 L563.80 623.63 L564.42 623.62 L565.04 623.62 L565.67 623.61 L566.29 623.61 L566.91 623.60 L567.53 623.60 L568.16 623.59 L568.78 623.59 L569.40 623.58 L570.02 623.58 L570.65 623.58 L571.27 623.57 L571.89 623.57 L572.51 623.56 L573.14 623.56 L573.76 623.55 L574.38 623.55 L575.00 623.55 L575.63 623.54 L576.25 623.54 L576.87 623.53 L577.49 623.53 L578.12 623.53 L578.74 623.52 L579.36 623.52 L579.98 623.52 L580.61 623.51 L581.23 623.51 L581.85 623.51 L582.47 623.50 L583.10 623.50 L583.72 623.49 L584.34 623.49 L584.96 623.49 L585.59 623.49 L586.21 623.48 L586.83 623.48 L587.45 623.48 L588.08 623.47 L588.70 623.47 L589.32 623.47 L589.94 623.46 L590.57 623.46 L591.19 623.46 L591.81 623.45 L592.43 623.45 L593.06 623.45 L593.68 623.45 L594.30 623.44 L594.92 623.44 L595.55 623.44 L596.17 623.44 L596.79 623.43 L597.41 623.43 L598.04 623.43 L598.66 623.42 L599.28 623.42 L599.90 623.42 L600.53 623.42 L601.15 623.41 L601.77 623.41 L602.39 623.41 L603.02 623.41 L603.64 623.41 L604.26 623.40 L604.88 623.40 L605.51 623.40 L606.13 623.40 L606.75 623.39 L607.37 623.39 L608.00 623.39 L608.62 623.39 L609.24 623.39 L609.86 623.38 L610.49 623.38 L611.11 623.38 L611.73 623.38 L612.35 623.38 L612.98 623.37 L613.60 623.37 L614.22 623.37 L614.84 623.37 L615.47 623.37 L616.09 623.36 L616.71 623.36 L617.33 623.36 L617.96 623.36 L618.58 623.36 L619.20 623.36" stroke="#0072BD" stroke-dasharray="8.88 8.87" stroke-dashoffset="16.14"/>
<path d="M187.81 10.79 L188.43 17.88 L189.05 24.89 L189.68 31.82 L190.30 38.67 L190.92 45.45 L191.54 52.15 L192.17 58.77 L192.79 65.33 L193.41 71.80 L194.03 78.21 L194.66 84.54 L195.28 90.81 L195.90 97.00 L196.52 103.12 L197.15 109.18 L197.77 115.17 L198.39 121.09 L199.01 126.94 L199.64 132.73 L200.26 138.45 L200.88 144.11 L201.50 149.70 L202.12 155.23 L202.75 160.70 L203.37 166.11 L203.99 171.46 L204.62 176.74 L205.24 181.97 L205.86 187.14 L206.48 192.24 L207.11 197.30 L207.73 202.29 L208.35 207.23 L208.97 212.11 L209.60 216.93 L210.22 221.71 L210.84 226.42 L211.46 231.09 L212.09 235.70 L212.71 240.26 L213.33 244.77 L213.95 249.22 L214.58 253.63 L215.20 257.98 L215.82 262.29 L216.44 266.54 L217.06 270.75 L217.69 274.91 L218.31 279.03 L218.93 283.09 L219.56 287.11 L220.18 291.09 L220.80 295.01 L221.42 298.90 L222.05 302.74 L222.67 306.53 L223.29 310.28 L223.91 313.99 L224.54 317.66 L225.16 321.28 L225.78 324.87 L226.40 328.41 L227.03 331.91 L227.65 335.37 L228.27 338.79 L228.89 342.18 L229.52 345.52 L230.14 348.82 L230.76 352.09 L231.38 355.32 L232.01 358.51 L232.63 361.67 L233.25 364.79 L233.87 367.87 L234.50 370.92 L235.12 373.93 L235.74 376.91 L236.36 379.85 L236.99 382.76 L237.61 385.64 L238.23 388.48 L238.85 391.29 L239.48 394.07 L240.10 396.81 L240.72 399.53 L241.34 402.21 L241.97 404.86 L242.59 407.48 L243.21 410.07 L243.83 412.63 L244.46 415.16 L245.08 417.66 L245.70 420.13 L246.32 422.57 L246.95 424.99 L247.57 427.37 L248.19 429.73 L248.81 432.06 L249.44 434.37 L250.06 436.64 L250.68 438.90 L251.30 441.12 L251.93 443.32 L252.55 445.49 L253.17 447.64 L253.79 449.76 L254.42 451.86 L255.04 453.93 L255.66 455.98 L256.28 458.00 L256.91 460.00 L257.53 461.98 L258.15 463.94 L258.77 465.87 L259.40 467.78 L260.02 469.66 L260.64 471.53 L261.26 473.37 L261.88 475.19 L262.51 476.99 L263.13 478.77 L263.75 480.53 L264.38 482.26 L265.00 483.98 L265.62 485.67 L266.24 487.35 L266.87 489.01 L267.49 490.64 L268.11 492.26 L268.73 493.86 L269.36 495.44 L269.98 497.00 L270.60 498.54 L271.22 500.07 L271.85 501.57 L272.47 503.06 L273.09 504.53 L273.71 505.98 L274.34 507.42 L274.96 508.84 L275.58 510.24 L276.20 511.63 L276.83 512.99 L277.45 514.35 L278.07 515.68 L278.69 517.01 L279.32 518.31 L279.94 519.60 L280.56 520.87 L281.18 522.13 L281.81 523.38 L282.43 524.61 L283.05 525.82 L283.67 527.02 L284.30 528.21 L284.92 529.38 L285.54 530.54 L286.16 531.68 L286.79 532.81 L287.41 533.93 L288.03 535.03 L288.65 536.12 L289.28 537.20 L289.90 538.26 L290.52 539.31 L291.14 540.35 L291.77 541.38 L292.39 542.39 L293.01 543.39 L293.63 544.38 L294.25 545.36 L294.88 546.33 L295.50 547.28 L296.12 548.23 L296.75 549.16 L297.37 550.08 L297.99 550.99 L298.61 551.89 L299.24 552.77 L299.86 553.65 L300.48 554.52 L301.10 555.37 L301.73 556.22 L302.35 557.05 L302.97 557.88 L303.59 558.69 L304.22 559.50 L304.84 560.30 L305.46 561.08 L306.08 561.86 L306.71 562.62 L307.33 563.38 L307.95 564.13 L308.57 564.87 L309.20 565.60 L309.82 566.32 L310.44 567.04 L311.06 567.74 L311.69 568.44 L312.31 569.12 L312.93 569.80 L313.55 570.47 L314.18 571.14 L314.80 571.79 L315.42 572.44 L316.04 573.08 L316.67 573.71 L317.29 574.33 L317.91 574.95 L318.53 575.55 L319.16 576.15 L319.78 576.75 L320.40 577.33 L321.02 577.91 L321.65 578.48 L322.27 579.05 L322.89 579.61 L323.51 580.16 L324.14 580.70 L324.76 581.24 L325.38 581.77 L326.00 582.29 L326.63 582.81 L327.25 583.32 L327.87 583.83 L328.49 584.33 L329.12 584.82 L329.74 585.31 L330.36 585.79 L330.98 586.26 L331.61 586.73 L332.23 587.20 L332.85 587.66 L333.47 588.11 L334.10 588.55 L334.72 588.99 L335.34 589.43 L335.96 589.86 L336.59 590.29 L337.21 590.71 L337.83 591.12 L338.45 591.53 L339.08 591.93 L339.70 592.33 L340.32 592.73 L340.94 593.12 L341.56 593.50 L342.19 593.88 L342.81 594.26 L343.43 594.63 L344.06 594.99 L344.68 595.35 L345.30 595.71 L345.92 596.06 L346.55 596.41 L347.17 596.75 L347.79 597.09 L348.41 597.43 L349.04 597.76 L349.66 598.09 L350.28 598.41 L350.90 598.73 L351.53 599.04 L352.15 599.35 L352.77 599.66 L353.39 599.96 L354.01 600.26 L354.64 600.56 L355.26 600.85 L355.88 601.14 L356.51 601.42 L357.13 601.70 L357.75 601.98 L358.37 602.26 L359.00 602.53 L359.62 602.79 L360.24 603.06 L360.86 603.32 L361.49 603.58 L362.11 603.83 L362.73 604.08 L363.35 604.33 L363.98 604.57 L364.60 604.82 L365.22 605.05 L365.84 605.29 L366.47 605.52 L367.09 605.75 L367.71 605.98 L368.33 606.20 L368.96 606.42 L369.58 606.64 L370.20 606.86 L370.82 607.07 L371.45 607.28 L372.07 607.49 L372.69 607.69 L373.31 607.89 L373.94 608.09 L374.56 608.29 L375.18 608.49 L375.80 608.68 L376.43 608.87 L377.05 609.06 L377.67 609.24 L378.29 609.42 L378.92 609.60 L379.54 609.78 L380.16 609.96 L380.78 610.13 L381.41 610.30 L382.03 610.47 L382.65 610.64 L383.27 610.80 L383.90 610.97 L384.52 611.13 L385.14 611.28 L385.76 611.44 L386.39 611.60 L387.01 611.75 L387.63 611.90 L388.25 612.05 L388.88 612.19 L389.50 612.34 L390.12 612.48 L390.74 612.62 L391.37 612.76 L391.99 612.90 L392.61 613.04 L393.23 613.17 L393.86 613.30 L394.48 613.43 L395.10 613.56 L395.72 613.69 L396.35 613.82 L396.97 613.94 L397.59 614.06 L398.21 614.18 L398.84 614.30 L399.46 614.42 L400.08 614.54 L400.70 614.65 L401.33 614.77 L401.95 614.88 L402.57 614.99 L403.19 615.10 L403.82 615.21 L404.44 615.31 L405.06 615.42 L405.68 615.52 L406.31 615.62 L406.93 615.72 L407.55 615.82 L408.17 615.92 L408.80 616.02 L409.42 616.11 L410.04 616.21 L410.66 616.30 L411.29 616.39 L411.91 616.49 L412.53 616.58 L413.15 616.66 L413.78 616.75 L414.40 616.84 L415.02 616.92 L415.64 617.01 L416.27 617.09 L416.89 617.17 L417.51 617.25 L418.13 617.33 L418.76 617.41 L419.38 617.49 L420.00 617.57 L420.62 617.64 L421.25 617.72 L421.87 617.79 L422.49 617.86 L423.11 617.93 L423.74 618.01 L424.36 618.08 L424.98 618.14 L425.60 618.21 L426.23 618.28 L426.85 618.35 L427.47 618.41 L428.09 618.48 L428.72 618.54 L429.34 618.60 L429.96 618.67 L430.58 618.73 L431.21 618.79 L431.83 618.85 L432.45 618.91 L433.07 618.96 L433.70 619.02 L434.32 619.08 L434.94 619.13 L435.56 619.19 L436.19 619.24 L436.81 619.30 L437.43 619.35 L438.05 619.40 L438.68 619.45 L439.30 619.51 L439.92 619.56 L440.54 619.61 L441.17 619.65 L441.79 619.70 L442.41 619.75 L443.03 619.80 L443.66 619.84 L444.28 619.89 L444.90 619.93 L445.52 619.98 L446.15 620.02 L446.77 620.07 L447.39 620.11 L448.01 620.15 L448.64 620.19 L449.26 620.24 L449.88 620.28 L450.50 620.32 L451.13 620.36 L451.75 620.39 L452.37 620.43 L452.99 620.47 L453.62 620.51 L454.24 620.55 L454.86 620.58 L455.48 620.62 L456.11 620.65 L456.73 620.69 L457.35 620.72 L457.97 620.76 L458.60 620.79 L459.22 620.82 L459.84 620.86 L460.46 620.89 L461.09 620.92 L461.71 620.95 L462.33 620.98 L462.95 621.01 L463.58 621.04 L464.20 621.07 L464.82 621.10 L465.44 621.13 L466.07 621.16 L466.69 621.19 L467.31 621.22 L467.93 621.25 L468.56 621.27 L469.18 621.30 L469.80 621.33 L470.42 621.35 L471.05 621.38 L471.67 621.40 L472.29 621.43 L472.91 621.45 L473.54 621.48 L474.16 621.50 L474.78 621.53 L475.40 621.55 L476.03 621.57 L476.65 621.59 L477.27 621.62 L477.89 621.64 L478.52 621.66 L479.14 621.68 L479.76 621.70 L480.38 621.72 L481.01 621.75 L481.63 621.77 L482.25 621.79 L482.87 621.81 L483.50 621.83 L484.12 621.84 L484.74 621.86 L485.36 621.88 L485.99 621.90 L486.61 621.92 L487.23 621.94 L487.85 621.96 L488.48 621.97 L489.10 621.99 L489.72 622.01 L490.34 622.02 L490.97 622.04 L491.59 622.06 L492.21 622.07 L492.83 622.09 L493.46 622.11 L494.08 622.12 L494.70 622.14 L495.32 622.15 L495.95 622.17 L496.57 622.18 L497.19 622.20 L497.81 622.21 L498.44 622.22 L499.06 622.24 L499.68 622.25 L500.30 622.26 L500.93 622.28 L501.55 622.29 L502.17 622.30 L502.79 622.32 L503.42 622.33 L504.04 622.34 L504.66 622.35 L505.28 622.37 L505.91 622.38 L506.53 622.39 L507.15 622.40 L507.77 622.41 L508.40 622.43 L509.02 622.44 L509.64 622.45 L510.26 622.46 L510.89 622.47 L511.51 622.48 L512.13 622.49 L512.75 622.50 L513.38 622.51 L514.00 622.52 L514.62 622.53 L515.24 622.54 L515.87 622.55 L516.49 622.56 L517.11 622.57 L517.73 622.58 L518.36 622.59 L518.98 622.60 L519.60 622.60 L520.22 622.61 L520.85 622.62 L521.47 622.63 L522.09 622.64 L522.71 622.65 L523.34 622.65 L523.96 622.66 L524.58 622.67 L525.20 622.68 L525.83 622.69 L526.45 622.69 L527.07 622.70 L527.69 622.71 L528.32 622.72 L528.94 622.72 L529.56 622.73 L530.18 622.74 L530.81 622.74 L531.43 622.75 L532.05 622.76 L532.67 622.76 L533.30 622.77 L533.92 622.78 L534.54 622.78 L535.16 622.79 L535.79 622.79 L536.41 622.80 L537.03 622.81 L537.65 622.81 L538.28 622.82 L538.90 622.82 L539.52 622.83 L540.14 622.84 L540.77 622.84 L541.39 622.85 L542.01 622.85 L542.63 622.86 L543.25 622.86 L543.88 622.87 L544.50 622.87 L545.12 622.88 L545.75 622.88 L546.37 622.89 L546.99 622.89 L547.61 622.90 L548.24 622.90 L548.86 622.91 L549.48 622.91 L550.10 622.91 L550.73 622.92 L551.35 622.92 L551.97 622.93 L552.59 622.93 L553.22 622.94 L553.84 622.94 L554.46 622.94 L555.08 622.95 L555.71 622.95 L556.33 622.96 L556.95 622.96 L557.57 622.96 L558.20 622.97 L558.82 622.97 L559.44 622.97 L560.06 622.98 L560.69 622.98 L561.31 622.98 L561.93 622.99 L562.55 622.99 L563.18 622.99 L563.80 623.00 L564.42 623.00 L565.04 623.00 L565.67 623.01 L566.29 623.01 L566.91 623.01 L567.53 623.02 L568.16 623.02 L568.78 623.02 L569.40 623.02 L570.02 623.03 L570.65 623.03 L571.27 623.03 L571.89 623.04 L572.51 623.04 L573.14 623.04 L573.76 623.04 L574.38 623.05 L575.00 623.05 L575.63 623.05 L576.25 623.05 L576.87 623.06 L577.49 623.06 L578.12 623.06 L578.74 623.06 L579.36 623.07 L579.98 623.07 L580.61 623.07 L581.23 623.07 L581.85 623.07 L582.47 623.08 L583.10 623.08 L583.72 623.08 L584.34 623.08 L584.96 623.08 L585.59 623.09 L586.21 623.09 L586.83 623.09 L587.45 623.09 L588.08 623.09 L588.70 623.10 L589.32 623.10 L589.94 623.10 L590.57 623.10 L591.19 623.10 L591.81 623.10 L592.43 623.11 L593.06 623.11 L593.68 623.11 L594.30 623.11 L594.92 623.11 L595.55 623.11 L596.17 623.12 L596.79 623.12 L597.41 623.12 L598.04 623.12 L598.66 623.12 L599.28 623.12 L599.90 623.12 L600.53 623.13 L601.15 623.13 L601.77 623.13 L602.39 623.13 L603.02 623.13 L603.64 623.13 L604.26 623.13 L604.88 623.13 L605.51 623.14 L606.13 623.14 L606.75 623.14 L607.37 623.14 L608.00 623.14 L608.62 623.14 L609.24 623.14 L609.86 623.14 L610.49 623.14 L611.11 623.15 L611.73 623.15 L612.35 623.15 L612.98 623.15 L613.60 623.15 L614.22 623.15 L614.84 623.15 L615.47 623.15 L616.09 623.15 L616.71 623.16 L617.33 623.16 L617.96 623.16 L618.58 623.16 L619.20 623.16" stroke="#D95319" stroke-dasharray="8.88 8.87" stroke-dashoffset="3.30"/>
<path d="M227.55 1058.64 L227.65 1057.36 L227.75 1056.07 L227.85 1054.78 L227.95 1053.49 L228.05 1052.21 L228.15 1050.92 L228.25 1049.63 L228.35 1048.34 L228.44 1047.05 L228.54 1045.76 L228.64 1044.47 L228.74 1043.18 L228.84 1041.89 L228.94 1040.60 L229.04 1039.31 L229.13 1038.02 L229.23 1036.73 L229.33 1035.44 L229.43 1034.15 L229.53 1032.86 L229.63 1031.57 L229.73 1030.28 L229.83 1028.98 L229.93 1027.69 L230.03 1026.40 L230.12 1025.11 L230.22 1023.82 L230.32 1022.52 L230.42 1021.23 L230.52 1019.94 L230.62 1018.64 L230.72 1017.35 L230.82 1016.06 L230.92 1014.77 L231.02 1013.47 L231.12 1012.18 L231.22 1010.88 L231.32 1009.59 L231.42 1008.30 L231.52 1007.00 L231.62 1005.71 L231.73 1004.41 L231.83 1003.12 L231.93 1001.82 L232.03 1000.53 L232.13 999.23 L232.23 997.94 L232.33 996.64 L232.44 995.35 L232.54 994.05 L232.64 992.76 L232.74 991.46 L232.85 990.17 L232.95 988.87 L233.05 987.58 L233.16 986.28 L233.26 984.98 L233.36 983.69 L233.47 982.39 L233.57 981.09 L233.68 979.80 L233.78 978.50 L233.89 977.21 L233.99 975.91 L234.10 974.61 L234.20 973.32 L234.31 972.02 L234.42 970.72 L234.52 969.42 L234.63 968.13 L234.74 966.83 L234.85 965.53 L234.95 964.24 L235.06 962.94 L235.17 961.64 L235.28 960.34 L235.39 959.05 L235.50 957.75 L235.61 956.45 L235.72 955.15 L235.83 953.86 L235.94 952.56 L236.05 951.26 L236.16 949.96 L236.27 948.66 L236.38 947.37 L236.50 946.07 L236.61 944.77 L236.72 943.47 L236.84 942.18 L236.95 940.88 L237.06 939.58 L237.18 938.28 L237.29 936.98 L237.41 935.69 L237.52 934.39 L237.64 933.09 L237.76 931.79 L237.87 930.49 L237.99 929.20 L238.11 927.90 L238.23 926.60 L238.35 925.30 L238.47 924.00 L238.59 922.71 L238.71 921.41 L238.83 920.11 L238.95 918.81 L239.07 917.52 L239.19 916.22 L239.31 914.92 L239.44 913.62 L239.56 912.32 L239.68 911.03 L239.81 909.73 L239.93 908.43 L240.06 907.13 L240.18 905.84 L240.31 904.54 L240.44 903.24 L240.56 901.94 L240.69 900.65 L240.82 899.35 L240.95 898.05 L241.08 896.75 L241.21 895.46 L241.34 894.16 L241.47 892.86 L241.60 891.57 L241.74 890.27 L241.87 888.97 L242.00 887.68 L242.14 886.38 L242.27 885.08 L242.40 883.79 L242.54 882.49 L242.68 881.19 L242.81 879.90 L242.95 878.60 L243.09 877.31 L243.23 876.01 L243.37 874.71 L243.51 873.42 L243.65 872.12 L243.79 870.83 L243.93 869.53 L244.07 868.24 L244.22 866.94 L244.36 865.65 L244.51 864.35 L244.65 863.06 L244.80 861.76 L244.94 860.47 L245.09 859.17 L245.24 857.88 L245.39 856.59 L245.54 855.29 L245.69 854.00 L245.84 852.70 L245.99 851.41 L246.14 850.12 L246.29 848.82 L246.45 847.53 L246.60 846.24 L246.75 844.94 L246.91 843.65 L247.07 842.36 L247.22 841.07 L247.38 839.77 L247.54 838.48 L247.70 837.19 L247.86 835.90 L248.02 834.61 L248.18 833.31 L248.34 832.02 L248.51 830.73 L248.67 829.44 L248.84 828.15 L249.00 826.86 L249.17 825.57 L249.34 824.28 L249.50 822.99 L249.67 821.70 L249.84 820.41 L250.01 819.12 L250.18 817.83 L250.36 816.54 L250.53 815.25 L250.70 813.96 L250.88 812.68 L251.05 811.39 L251.23 810.10 L251.41 808.81 L251.58 807.52 L251.76 806.24 L251.94 804.95 L252.12 803.66 L252.31 802.38 L252.49 801.09 L252.67 799.80 L252.86 798.52 L253.04 797.23 L253.23 795.95 L253.41 794.66 L253.60 793.38 L253.79 792.09 L253.98 790.81 L254.17 789.52 L254.36 788.24 L254.55 786.95 L254.75 785.67 L254.94 784.39 L255.14 783.10 L255.33 781.82 L255.53 780.54 L255.73 779.26 L255.93 777.97 L256.13 776.69 L256.33 775.41 L256.53 774.13 L256.74 772.85 L256.94 771.57 L257.15 770.29 L257.35 769.01 L257.56 767.73 L257.77 766.45 L257.98 765.17 L258.19 763.89 L258.40 762.61 L258.61 761.33 L258.82 760.05 L259.04 758.78 L259.25 757.50 L259.47 756.22 L259.69 754.94 L259.91 753.67 L260.13 752.39 L260.35 751.12 L260.57 749.84 L260.79 748.57 L261.02 747.29 L261.24 746.02 L261.47 744.74 L261.69 743.47 L261.92 742.19 L262.15 740.92 L262.38 739.65 L262.61 738.37 L262.85 737.10 L263.08 735.83 L263.32 734.56 L263.55 733.29 L263.79 732.02 L264.03 730.75 L264.27 729.48 L264.51 728.21 L264.75 726.94 L264.99 725.67 L265.24 724.40 L265.48 723.13 L265.73 721.86 L265.98 720.59 L266.23 719.33 L266.48 718.06 L266.73 716.79 L266.98 715.53 L267.24 714.26 L267.49 712.99 L267.75 711.73 L268.01 710.47 L268.26 709.20 L268.52 707.94 L268.79 706.67 L269.05 705.41 L269.31 704.15 L269.58 702.89 L269.85 701.62 L270.12 700.36 L270.39 699.10 L270.66 697.84 L270.94 696.58 L271.22 695.32 L271.50 694.06 L271.79 692.80 L272.08 691.55 L272.37 690.29 L272.66 689.03 L272.96 687.77 L273.26 686.52 L273.56 685.26 L273.87 684.01 L274.19 682.76 L274.50 681.50 L274.82 680.25 L275.15 679.00 L275.48 677.75 L275.81 676.49 L276.15 675.24 L276.50 673.99 L276.85 672.75 L277.20 671.50 L277.56 670.25 L277.93 669.00 L278.30 667.76 L278.67 666.51 L279.06 665.27 L279.44 664.02 L279.84 662.78 L280.24 661.54 L280.65 660.30 L281.06 659.06 L281.48 657.82 L281.91 656.58 L282.34 655.34 L282.79 654.10 L283.23 652.86 L283.69 651.63 L284.16 650.39 L284.63 649.16 L285.11 647.93 L285.59 646.69 L286.09 645.46 L286.59 644.23 L287.11 643.00 L287.63 641.77 L288.16 640.55 L288.69 639.32 L289.24 638.09 L289.80 636.87 L290.36 635.65 L290.94 634.43 L291.53 633.21 L292.12 632.00 L292.73 630.80 L293.35 629.60 L293.98 628.41 L294.62 627.23 L295.27 626.06 L295.94 624.90 L296.62 623.75 L297.31 622.61 L298.01 621.48 L298.73 620.37 L299.46 619.27 L300.21 618.19 L300.97 617.12 L301.75 616.08 L302.54 615.05 L303.34 614.04 L304.17 613.04 L305.01 612.08 L305.86 611.13 L306.73 610.20 L307.62 609.30 L308.53 608.42 L309.45 607.57 L310.40 606.75 L311.36 605.95 L312.33 605.18 L313.33 604.44 L314.34 603.73 L315.37 603.05 L316.42 602.40 L317.48 601.79 L318.55 601.21 L319.64 600.66 L320.75 600.14 L321.86 599.66 L322.99 599.20 L324.14 598.77 L325.30 598.37 L326.46 598.00 L327.64 597.65 L328.84 597.33 L330.04 597.04 L331.25 596.77 L332.47 596.53 L333.70 596.31 L334.95 596.12 L336.20 595.94 L337.45 595.79 L338.72 595.66 L339.99 595.56 L341.27 595.47 L342.56 595.40 L343.85 595.35 L345.15 595.31 L346.45 595.30 L347.76 595.30 L349.07 595.32 L350.39 595.35 L351.71 595.40 L353.03 595.46 L354.36 595.54 L355.68 595.63 L357.01 595.73 L358.34 595.84 L359.67 595.97 L361.01 596.10 L362.34 596.25 L363.67 596.40 L365.00 596.56 L366.33 596.73 L367.66 596.91 L368.99 597.09 L370.31 597.28 L371.63 597.47 L372.95 597.67 L374.26 597.88 L375.57 598.09 L376.88 598.30 L378.19 598.52 L379.50 598.74 L380.80 598.97 L382.10 599.20 L383.39 599.43 L384.69 599.67 L385.98 599.91 L387.27 600.16 L388.56 600.41 L389.85 600.66 L391.14 600.91 L392.42 601.17 L393.70 601.42 L394.98 601.69 L396.26 601.95 L397.54 602.21 L398.81 602.48 L400.09 602.75 L401.36 603.02 L402.63 603.29 L403.90 603.57 L405.17 603.84 L406.44 604.11 L407.71 604.39 L408.98 604.67 L410.24 604.94 L411.51 605.22 L412.77 605.50 L414.04 605.77 L415.30 606.05 L416.57 606.33 L417.83 606.60 L419.09 606.88 L420.35 607.15 L421.62 607.42 L422.88 607.69 L424.14 607.96 L425.40 608.23 L426.66 608.50 L427.93 608.76 L429.19 609.03 L430.45 609.29 L431.72 609.55 L432.98 609.80 L434.25 610.05 L435.51 610.30 L436.78 610.55 L438.04 610.80 L439.31 611.04 L440.58 611.27 L441.85 611.51 L443.12 611.74 L444.39 611.96 L445.66 612.19 L446.93 612.40 L448.21 612.62 L449.48 612.83 L450.76 613.04 L452.04 613.25 L453.31 613.45 L454.59 613.65 L455.87 613.84 L457.15 614.03 L458.43 614.22 L459.71 614.41 L460.99 614.59 L462.28 614.77 L463.56 614.95 L464.85 615.12 L466.13 615.29 L467.42 615.46 L468.70 615.62 L469.99 615.78 L471.28 615.94 L472.57 616.09 L473.86 616.25 L475.15 616.40 L476.44 616.54 L477.73 616.69 L479.02 616.83 L480.31 616.97 L481.61 617.10 L482.90 617.23 L484.20 617.36 L485.49 617.49 L486.79 617.62 L488.08 617.74 L489.38 617.86 L490.67 617.98 L491.97 618.09 L493.27 618.21 L494.57 618.32 L495.87 618.43 L497.16 618.53 L498.46 618.64 L499.76 618.74 L501.06 618.84 L502.36 618.93 L503.67 619.03 L504.97 619.12 L506.27 619.21 L507.57 619.30 L508.87 619.39 L510.18 619.47 L511.48 619.56 L512.78 619.64 L514.08 619.72 L515.39 619.79 L516.69 619.87 L518.00 619.94 L519.30 620.02 L520.60 620.09 L521.91 620.15 L523.21 620.22 L524.52 620.29 L525.82 620.35 L527.13 620.41 L528.44 620.47 L529.74 620.53 L531.05 620.59 L532.35 620.65 L533.66 620.70 L534.96 620.75 L536.27 620.81 L537.58 620.86 L538.88 620.91 L540.19 620.96 L541.49 621.00 L542.80 621.05 L544.11 621.09 L545.41 621.14 L546.72 621.18 L548.02 621.22 L549.33 621.26 L550.63 621.30 L551.94 621.34 L553.25 621.38 L554.55 621.41 L555.86 621.45 L557.16 621.48 L558.47 621.52 L559.77 621.55 L561.07 621.59 L562.38 621.62 L563.68 621.65 L564.99 621.68 L566.29 621.71 L567.59 621.74 L568.90 621.77 L570.20 621.80 L571.50 621.82 L572.80 621.85 L574.11 621.88 L575.41 621.91 L576.71 621.93 L578.01 621.96 L579.31 621.98 L580.61 622.01 L581.91 622.04 L583.21 622.06 L584.51 622.09 L585.81 622.11 L587.10 622.13 L588.40 622.16 L589.70 622.18 L590.99 622.21 L592.29 622.23 L593.59 622.26 L594.88 622.28 L596.18 622.31 L597.47 622.33 L598.76 622.36 L600.06 622.38 L601.35 622.41 L602.64 622.44 L603.93 622.46 L605.22 622.49 L606.51 622.52 L607.80 622.54 L609.09 622.57 L610.38 622.60 L611.66 622.63 L612.95 622.66 L614.24 622.69 L615.52 622.72 L616.80 622.75 L618.09 622.78 L619.37 622.82" stroke="#000000" stroke-dasharray="8.88 8.87" stroke-dashoffset="2.60"/>
<path d="M213.33 1055.75 L213.95 1051.30 L214.58 1046.91 L215.20 1042.56 L215.82 1038.27 L216.44 1034.04 L217.06 1029.85 L217.69 1025.71 L218.31 1021.63 L218.93 1017.59 L219.56 1013.60 L220.18 1009.66 L220.80 1005.77 L221.42 1001.92 L222.05 998.12 L222.67 994.37 L223.29 990.66 L223.91 987.00 L224.54 983.38 L225.16 979.80 L225.78 976.27 L226.40 972.78 L227.03 969.34 L227.65 965.93 L228.27 962.57 L228.89 959.24 L229.52 955.96 L230.14 952.71 L230.76 949.51 L231.38 946.34 L232.01 943.22 L232.63 940.12 L233.25 937.07 L233.87 934.06 L234.50 931.08 L235.12 928.13 L235.74 925.23 L236.36 922.35 L236.99 919.51 L237.61 916.71 L238.23 913.94 L238.85 911.20 L239.48 908.50 L240.10 905.83 L240.72 903.19 L241.34 900.58 L241.97 898.01 L242.59 895.46 L243.21 892.95 L243.83 890.47 L244.46 888.01 L245.08 885.59 L245.70 883.20 L246.32 880.83 L246.95 878.49 L247.57 876.19 L248.19 873.90 L248.81 871.65 L249.44 869.43 L250.06 867.23 L250.68 865.05 L251.30 862.91 L251.93 860.79 L252.55 858.69 L253.17 856.62 L253.79 854.58 L254.42 852.56 L255.04 850.56 L255.66 848.59 L256.28 846.65 L256.91 844.72 L257.53 842.82 L258.15 840.94 L258.77 839.09 L259.40 837.26 L260.02 835.44 L260.64 833.66 L261.26 831.89 L261.88 830.14 L262.51 828.42 L263.13 826.71 L263.75 825.03 L264.38 823.37 L265.00 821.73 L265.62 820.10 L266.24 818.50 L266.87 816.92 L267.49 815.35 L268.11 813.80 L268.73 812.28 L269.36 810.77 L269.98 809.28 L270.60 807.81 L271.22 806.35 L271.85 804.91 L272.47 803.49 L273.09 802.09 L273.71 800.70 L274.34 799.34 L274.96 797.98 L275.58 796.65 L276.20 795.33 L276.83 794.02 L277.45 792.73 L278.07 791.46 L278.69 790.20 L279.32 788.96 L279.94 787.73 L280.56 786.52 L281.18 785.32 L281.81 784.14 L282.43 782.97 L283.05 781.82 L283.67 780.67 L284.30 779.55 L284.92 778.43 L285.54 777.33 L286.16 776.25 L286.79 775.17 L287.41 774.11 L288.03 773.06 L288.65 772.03 L289.28 771.01 L289.90 770.00 L290.52 769.00 L291.14 768.01 L291.77 767.04 L292.39 766.07 L293.01 765.12 L293.63 764.18 L294.25 763.26 L294.88 762.34 L295.50 761.43 L296.12 760.54 L296.75 759.65 L297.37 758.78 L297.99 757.92 L298.61 757.07 L299.24 756.22 L299.86 755.39 L300.48 754.57 L301.10 753.76 L301.73 752.96 L302.35 752.16 L302.97 751.38 L303.59 750.61 L304.22 749.84 L304.84 749.09 L305.46 748.34 L306.08 747.61 L306.71 746.88 L307.33 746.16 L307.95 745.45 L308.57 744.75 L309.20 744.05 L309.82 743.37 L310.44 742.69 L311.06 742.02 L311.69 741.36 L312.31 740.71 L312.93 740.06 L313.55 739.43 L314.18 738.80 L314.80 738.18 L315.42 737.56 L316.04 736.96 L316.67 736.36 L317.29 735.77 L317.91 735.18 L318.53 734.60 L319.16 734.03 L319.78 733.47 L320.40 732.91 L321.02 732.36 L321.65 731.82 L322.27 731.28 L322.89 730.75 L323.51 730.22 L324.14 729.71 L324.76 729.19 L325.38 728.69 L326.00 728.19 L326.63 727.70 L327.25 727.21 L327.87 726.73 L328.49 726.25 L329.12 725.78 L329.74 725.32 L330.36 724.86 L330.98 724.41 L331.61 723.96 L332.23 723.52 L332.85 723.08 L333.47 722.65 L334.10 722.22 L334.72 721.80 L335.34 721.38 L335.96 720.97 L336.59 720.57 L337.21 720.16 L337.83 719.77 L338.45 719.38 L339.08 718.99 L339.70 718.61 L340.32 718.23 L340.94 717.86 L341.56 717.49 L342.19 717.12 L342.81 716.76 L343.43 716.41 L344.06 716.06 L344.68 715.71 L345.30 715.37 L345.92 715.03 L346.55 714.69 L347.17 714.36 L347.79 714.04 L348.41 713.71 L349.04 713.40 L349.66 713.08 L350.28 712.77 L350.90 712.46 L351.53 712.16 L352.15 711.86 L352.77 711.56 L353.39 711.27 L354.01 710.98 L354.64 710.70 L355.26 710.41 L355.88 710.14 L356.51 709.86 L357.13 709.59 L357.75 709.32 L358.37 709.05 L359.00 708.79 L359.62 708.53 L360.24 708.28 L360.86 708.02 L361.49 707.77 L362.11 707.53 L362.73 707.28 L363.35 707.04 L363.98 706.80 L364.60 706.57 L365.22 706.34 L365.84 706.11 L366.47 705.88 L367.09 705.66 L367.71 705.44 L368.33 705.22 L368.96 705.00 L369.58 704.79 L370.20 704.58 L370.82 704.37 L371.45 704.16 L372.07 703.96 L372.69 703.76 L373.31 703.56 L373.94 703.36 L374.56 703.17 L375.18 702.98 L375.80 702.79 L376.43 702.60 L377.05 702.42 L377.67 702.24 L378.29 702.06 L378.92 701.88 L379.54 701.70 L380.16 701.53 L380.78 701.36 L381.41 701.19 L382.03 701.02 L382.65 700.86 L383.27 700.69 L383.90 700.53 L384.52 700.37 L385.14 700.22 L385.76 700.06 L386.39 699.91 L387.01 699.75 L387.63 699.60 L388.25 699.46 L388.88 699.31 L389.50 699.16 L390.12 699.02 L390.74 698.88 L391.37 698.74 L391.99 698.60 L392.61 698.47 L393.23 698.33 L393.86 698.20 L394.48 698.07 L395.10 697.94 L395.72 697.81 L396.35 697.68 L396.97 697.56 L397.59 697.44 L398.21 697.31 L398.84 697.19 L399.46 697.07 L400.08 696.96 L400.70 696.84 L401.33 696.73 L401.95 696.61 L402.57 696.50 L403.19 696.39 L403.82 696.28 L404.44 696.17 L405.06 696.07 L405.68 695.96 L406.31 695.86 L406.93 695.75 L407.55 695.65 L408.17 695.55 L408.80 695.45 L409.42 695.35 L410.04 695.26 L410.66 695.16 L411.29 695.07 L411.91 694.97 L412.53 694.88 L413.15 694.79 L413.78 694.70 L414.40 694.61 L415.02 694.52 L415.64 694.44 L416.27 694.35 L416.89 694.27 L417.51 694.18 L418.13 694.10 L418.76 694.02 L419.38 693.94 L420.00 693.86 L420.62 693.78 L421.25 693.70 L421.87 693.62 L422.49 693.55 L423.11 693.47 L423.74 693.40 L424.36 693.32 L424.98 693.25 L425.60 693.18 L426.23 693.11 L426.85 693.04 L427.47 692.97 L428.09 692.90 L428.72 692.84 L429.34 692.77 L429.96 692.70 L430.58 692.64 L431.21 692.58 L431.83 692.51 L432.45 692.45 L433.07 692.39 L433.70 692.33 L434.32 692.27 L434.94 692.21 L435.56 692.15 L436.19 692.09 L436.81 692.03 L437.43 691.98 L438.05 691.92 L438.68 691.86 L439.30 691.81 L439.92 691.76 L440.54 691.70 L441.17 691.65 L441.79 691.60 L442.41 691.55 L443.03 691.49 L443.66 691.44 L444.28 691.39 L444.90 691.35 L445.52 691.30 L446.15 691.25 L446.77 691.20 L447.39 691.16 L448.01 691.11 L448.64 691.06 L449.26 691.02 L449.88 690.97 L450.50 690.93 L451.13 690.89 L451.75 690.84 L452.37 690.80 L452.99 690.76 L453.62 690.72 L454.24 690.68 L454.86 690.64 L455.48 690.60 L456.11 690.56 L456.73 690.52 L457.35 690.48 L457.97 690.44 L458.60 690.40 L459.22 690.37 L459.84 690.33 L460.46 690.29 L461.09 690.26 L461.71 690.22 L462.33 690.19 L462.95 690.15 L463.58 690.12 L464.20 690.09 L464.82 690.05 L465.44 690.02 L466.07 689.99 L466.69 689.96 L467.31 689.92 L467.93 689.89 L468.56 689.86 L469.18 689.83 L469.80 689.80 L470.42 689.77 L471.05 689.74 L471.67 689.71 L472.29 689.68 L472.91 689.66 L473.54 689.63 L474.16 689.60 L474.78 689.57 L475.40 689.55 L476.03 689.52 L476.65 689.49 L477.27 689.47 L477.89 689.44 L478.52 689.42 L479.14 689.39 L479.76 689.37 L480.38 689.34 L481.01 689.32 L481.63 689.29 L482.25 689.27 L482.87 689.25 L483.50 689.22 L484.12 689.20 L484.74 689.18 L485.36 689.15 L485.99 689.13 L486.61 689.11 L487.23 689.09 L487.85 689.07 L488.48 689.05 L489.10 689.03 L489.72 689.01 L490.34 688.99 L490.97 688.97 L491.59 688.95 L492.21 688.93 L492.83 688.91 L493.46 688.89 L494.08 688.87 L494.70 688.85 L495.32 688.83 L495.95 688.81 L496.57 688.80 L497.19 688.78 L497.81 688.76 L498.44 688.74 L499.06 688.73 L499.68 688.71 L500.30 688.69 L500.93 688.68 L501.55 688.66 L502.17 688.65 L502.79 688.63 L503.42 688.61 L504.04 688.60 L504.66 688.58 L505.28 688.57 L505.91 688.55 L506.53 688.54 L507.15 688.52 L507.77 688.51 L508.40 688.50 L509.02 688.48 L509.64 688.47 L510.26 688.45 L510.89 688.44 L511.51 688.43 L512.13 688.41 L512.75 688.40 L513.38 688.39 L514.00 688.37 L514.62 688.36 L515.24 688.35 L515.87 688.34 L516.49 688.33 L517.11 688.31 L517.73 688.30 L518.36 688.29 L518.98 688.28 L519.60 688.27 L520.22 688.26 L520.85 688.24 L521.47 688.23 L522.09 688.22 L522.71 688.21 L523.34 688.20 L523.96 688.19 L524.58 688.18 L525.20 688.17 L525.83 688.16 L526.45 688.15 L527.07 688.14 L527.69 688.13 L528.32 688.12 L528.94 688.11 L529.56 688.10 L530.18 688.09 L530.81 688.08 L531.43 688.07 L532.05 688.07 L532.67 688.06 L533.30 688.05 L533.92 688.04 L534.54 688.03 L535.16 688.02 L535.79 688.01 L536.41 688.01 L537.03 688.00 L537.65 687.99 L538.28 687.98 L538.90 687.97 L539.52 687.97 L540.14 687.96 L540.77 687.95 L541.39 687.94 L542.01 687.94 L542.63 687.93 L543.25 687.92 L543.88 687.91 L544.50 687.91 L545.12 687.90 L545.75 687.89 L546.37 687.89 L546.99 687.88 L547.61 687.87 L548.24 687.87 L548.86 687.86 L549.48 687.85 L550.10 687.85 L550.73 687.84 L551.35 687.84 L551.97 687.83 L552.59 687.82 L553.22 687.82 L553.84 687.81 L554.46 687.81 L555.08 687.80 L555.71 687.79 L556.33 687.79 L556.95 687.78 L557.57 687.78 L558.20 687.77 L558.82 687.77 L559.44 687.76 L560.06 687.76 L560.69 687.75 L561.31 687.75 L561.93 687.74 L562.55 687.74 L563.18 687.73 L563.80 687.73 L564.42 687.72 L565.04 687.72 L565.67 687.71 L566.29 687.71 L566.91 687.70 L567.53 687.70 L568.16 687.70 L568.78 687.69 L569.40 687.69 L570.02 687.68 L570.65 687.68 L571.27 687.67 L571.89 687.67 L572.51 687.67 L573.14 687.66 L573.76 687.66 L574.38 687.65 L575.00 687.65 L575.63 687.65 L576.25 687.64 L576.87 687.64 L577.49 687.63 L578.12 687.63 L578.74 687.63 L579.36 687.62 L579.98 687.62 L580.61 687.62 L581.23 687.61 L581.85 687.61 L582.47 687.61 L583.10 687.60 L583.72 687.60 L584.34 687.60 L584.96 687.59 L585.59 687.59 L586.21 687.59 L586.83 687.58 L587.45 687.58 L588.08 687.58 L588.70 687.58 L589.32 687.57 L589.94 687.57 L590.57 687.57 L591.19 687.56 L591.81 687.56 L592.43 687.56 L593.06 687.56 L593.68 687.55 L594.30 687.55 L594.92 687.55 L595.55 687.55 L596.17 687.54 L596.79 687.54 L597.41 687.54 L598.04 687.54 L598.66 687.53 L599.28 687.53 L599.90 687.53 L600.53 687.53 L601.15 687.52 L601.77 687.52 L602.39 687.52 L603.02 687.52 L603.64 687.51 L604.26 687.51 L604.88 687.51 L605.51 687.51 L606.13 687.51 L606.75 687.50 L607.37 687.50 L608.00 687.50 L608.62 687.50 L609.24 687.50 L609.86 687.49 L610.49 687.49 L611.11 687.49 L611.73 687.49 L612.35 687.49 L612.98 687.48 L613.60 687.48 L614.22 687.48 L614.84 687.48 L615.47 687.48 L616.09 687.48 L616.71 687.47 L617.33 687.47 L617.96 687.47 L618.58 687.47 L619.20 687.47" stroke="#0072BD" stroke-dasharray="4.45 2.95" stroke-dashoffset="5.34"/>
<path d="M182.21 10.98 L182.83 19.15 L183.45 27.22 L184.07 35.19 L184.70 43.06 L185.32 50.84 L185.94 58.53 L186.56 66.13 L187.19 73.63 L187.81 81.04 L188.43 88.36 L189.05 95.59 L189.68 102.74 L190.30 109.80 L190.92 116.77 L191.54 123.66 L192.17 130.47 L192.79 137.20 L193.41 143.84 L194.03 150.40 L194.66 156.89 L195.28 163.29 L195.90 169.62 L196.52 175.87 L197.15 182.05 L197.77 188.15 L198.39 194.18 L199.01 200.14 L199.64 206.02 L200.26 211.83 L200.88 217.58 L201.50 223.25 L202.12 228.85 L202.75 234.39 L203.37 239.86 L203.99 245.26 L204.62 250.60 L205.24 255.88 L205.86 261.09 L206.48 266.24 L207.11 271.32 L207.73 276.34 L208.35 281.31 L208.97 286.21 L209.60 291.06 L210.22 295.84 L210.84 300.57 L211.46 305.24 L212.09 309.85 L212.71 314.41 L213.33 318.92 L213.95 323.37 L214.58 327.76 L215.20 332.10 L215.82 336.39 L216.44 340.63 L217.06 344.82 L217.69 348.95 L218.31 353.04 L218.93 357.08 L219.56 361.07 L220.18 365.01 L220.80 368.90 L221.42 372.74 L222.05 376.54 L222.67 380.30 L223.29 384.00 L223.91 387.67 L224.54 391.29 L225.16 394.86 L225.78 398.39 L226.40 401.88 L227.03 405.33 L227.65 408.74 L228.27 412.10 L228.89 415.42 L229.52 418.71 L230.14 421.95 L230.76 425.16 L231.38 428.32 L232.01 431.45 L232.63 434.54 L233.25 437.59 L233.87 440.61 L234.50 443.59 L235.12 446.53 L235.74 449.44 L236.36 452.31 L236.99 455.15 L237.61 457.96 L238.23 460.73 L238.85 463.46 L239.48 466.17 L240.10 468.84 L240.72 471.48 L241.34 474.08 L241.97 476.66 L242.59 479.20 L243.21 481.72 L243.83 484.20 L244.46 486.65 L245.08 489.08 L245.70 491.47 L246.32 493.84 L246.95 496.17 L247.57 498.48 L248.19 500.76 L248.81 503.01 L249.44 505.24 L250.06 507.44 L250.68 509.61 L251.30 511.76 L251.93 513.88 L252.55 515.97 L253.17 518.04 L253.79 520.09 L254.42 522.11 L255.04 524.10 L255.66 526.07 L256.28 528.02 L256.91 529.94 L257.53 531.85 L258.15 533.72 L258.77 535.58 L259.40 537.41 L260.02 539.22 L260.64 541.01 L261.26 542.78 L261.88 544.52 L262.51 546.25 L263.13 547.95 L263.75 549.63 L264.38 551.30 L265.00 552.94 L265.62 554.56 L266.24 556.17 L266.87 557.75 L267.49 559.32 L268.11 560.86 L268.73 562.39 L269.36 563.90 L269.98 565.39 L270.60 566.86 L271.22 568.32 L271.85 569.75 L272.47 571.17 L273.09 572.58 L273.71 573.96 L274.34 575.33 L274.96 576.68 L275.58 578.02 L276.20 579.34 L276.83 580.64 L277.45 581.93 L278.07 583.21 L278.69 584.46 L279.32 585.71 L279.94 586.93 L280.56 588.15 L281.18 589.34 L281.81 590.53 L282.43 591.70 L283.05 592.85 L283.67 593.99 L284.30 595.12 L284.92 596.23 L285.54 597.33 L286.16 598.42 L286.79 599.49 L287.41 600.55 L288.03 601.60 L288.65 602.64 L289.28 603.66 L289.90 604.67 L290.52 605.67 L291.14 606.66 L291.77 607.63 L292.39 608.59 L293.01 609.54 L293.63 610.48 L294.25 611.41 L294.88 612.33 L295.50 613.23 L296.12 614.13 L296.75 615.01 L297.37 615.89 L297.99 616.75 L298.61 617.60 L299.24 618.44 L299.86 619.27 L300.48 620.10 L301.10 620.91 L301.73 621.71 L302.35 622.50 L302.97 623.29 L303.59 624.06 L304.22 624.82 L304.84 625.58 L305.46 626.32 L306.08 627.06 L306.71 627.79 L307.33 628.51 L307.95 629.22 L308.57 629.92 L309.20 630.61 L309.82 631.30 L310.44 631.98 L311.06 632.64 L311.69 633.30 L312.31 633.96 L312.93 634.60 L313.55 635.24 L314.18 635.87 L314.80 636.49 L315.42 637.10 L316.04 637.71 L316.67 638.31 L317.29 638.90 L317.91 639.49 L318.53 640.06 L319.16 640.63 L319.78 641.20 L320.40 641.76 L321.02 642.31 L321.65 642.85 L322.27 643.39 L322.89 643.92 L323.51 644.44 L324.14 644.96 L324.76 645.47 L325.38 645.98 L326.00 646.48 L326.63 646.97 L327.25 647.46 L327.87 647.94 L328.49 648.41 L329.12 648.88 L329.74 649.35 L330.36 649.81 L330.98 650.26 L331.61 650.71 L332.23 651.15 L332.85 651.59 L333.47 652.02 L334.10 652.45 L334.72 652.87 L335.34 653.28 L335.96 653.69 L336.59 654.10 L337.21 654.50 L337.83 654.90 L338.45 655.29 L339.08 655.68 L339.70 656.06 L340.32 656.44 L340.94 656.81 L341.56 657.18 L342.19 657.54 L342.81 657.90 L343.43 658.26 L344.06 658.61 L344.68 658.96 L345.30 659.30 L345.92 659.64 L346.55 659.97 L347.17 660.30 L347.79 660.63 L348.41 660.95 L349.04 661.27 L349.66 661.58 L350.28 661.90 L350.90 662.20 L351.53 662.51 L352.15 662.81 L352.77 663.10 L353.39 663.40 L354.01 663.68 L354.64 663.97 L355.26 664.25 L355.88 664.53 L356.51 664.81 L357.13 665.08 L357.75 665.35 L358.37 665.61 L359.00 665.87 L359.62 666.13 L360.24 666.39 L360.86 666.64 L361.49 666.89 L362.11 667.14 L362.73 667.38 L363.35 667.62 L363.98 667.86 L364.60 668.10 L365.22 668.33 L365.84 668.56 L366.47 668.79 L367.09 669.01 L367.71 669.23 L368.33 669.45 L368.96 669.67 L369.58 669.88 L370.20 670.09 L370.82 670.30 L371.45 670.50 L372.07 670.71 L372.69 670.91 L373.31 671.11 L373.94 671.30 L374.56 671.50 L375.18 671.69 L375.80 671.88 L376.43 672.06 L377.05 672.25 L377.67 672.43 L378.29 672.61 L378.92 672.79 L379.54 672.96 L380.16 673.14 L380.78 673.31 L381.41 673.48 L382.03 673.64 L382.65 673.81 L383.27 673.97 L383.90 674.13 L384.52 674.29 L385.14 674.45 L385.76 674.61 L386.39 674.76 L387.01 674.91 L387.63 675.06 L388.25 675.21 L388.88 675.36 L389.50 675.50 L390.12 675.64 L390.74 675.79 L391.37 675.93 L391.99 676.06 L392.61 676.20 L393.23 676.33 L393.86 676.47 L394.48 676.60 L395.10 676.73 L395.72 676.86 L396.35 676.98 L396.97 677.11 L397.59 677.23 L398.21 677.35 L398.84 677.47 L399.46 677.59 L400.08 677.71 L400.70 677.83 L401.33 677.94 L401.95 678.05 L402.57 678.17 L403.19 678.28 L403.82 678.39 L404.44 678.49 L405.06 678.60 L405.68 678.71 L406.31 678.81 L406.93 678.91 L407.55 679.02 L408.17 679.12 L408.80 679.21 L409.42 679.31 L410.04 679.41 L410.66 679.51 L411.29 679.60 L411.91 679.69 L412.53 679.79 L413.15 679.88 L413.78 679.97 L414.40 680.06 L415.02 680.14 L415.64 680.23 L416.27 680.32 L416.89 680.40 L417.51 680.48 L418.13 680.57 L418.76 680.65 L419.38 680.73 L420.00 680.81 L420.62 680.89 L421.25 680.97 L421.87 681.04 L422.49 681.12 L423.11 681.19 L423.74 681.27 L424.36 681.34 L424.98 681.41 L425.60 681.49 L426.23 681.56 L426.85 681.63 L427.47 681.69 L428.09 681.76 L428.72 681.83 L429.34 681.90 L429.96 681.96 L430.58 682.03 L431.21 682.09 L431.83 682.15 L432.45 682.22 L433.07 682.28 L433.70 682.34 L434.32 682.40 L434.94 682.46 L435.56 682.52 L436.19 682.58 L436.81 682.63 L437.43 682.69 L438.05 682.75 L438.68 682.80 L439.30 682.86 L439.92 682.91 L440.54 682.96 L441.17 683.02 L441.79 683.07 L442.41 683.12 L443.03 683.17 L443.66 683.22 L444.28 683.27 L444.90 683.32 L445.52 683.37 L446.15 683.42 L446.77 683.46 L447.39 683.51 L448.01 683.56 L448.64 683.60 L449.26 683.65 L449.88 683.69 L450.50 683.74 L451.13 683.78 L451.75 683.82 L452.37 683.87 L452.99 683.91 L453.62 683.95 L454.24 683.99 L454.86 684.03 L455.48 684.07 L456.11 684.11 L456.73 684.15 L457.35 684.19 L457.97 684.22 L458.60 684.26 L459.22 684.30 L459.84 684.34 L460.46 684.37 L461.09 684.41 L461.71 684.44 L462.33 684.48 L462.95 684.51 L463.58 684.55 L464.20 684.58 L464.82 684.61 L465.44 684.65 L466.07 684.68 L466.69 684.71 L467.31 684.74 L467.93 684.77 L468.56 684.80 L469.18 684.84 L469.80 684.87 L470.42 684.90 L471.05 684.92 L471.67 684.95 L472.29 684.98 L472.91 685.01 L473.54 685.04 L474.16 685.07 L474.78 685.09 L475.40 685.12 L476.03 685.15 L476.65 685.17 L477.27 685.20 L477.89 685.23 L478.52 685.25 L479.14 685.28 L479.76 685.30 L480.38 685.33 L481.01 685.35 L481.63 685.37 L482.25 685.40 L482.87 685.42 L483.50 685.44 L484.12 685.47 L484.74 685.49 L485.36 685.51 L485.99 685.53 L486.61 685.56 L487.23 685.58 L487.85 685.60 L488.48 685.62 L489.10 685.64 L489.72 685.66 L490.34 685.68 L490.97 685.70 L491.59 685.72 L492.21 685.74 L492.83 685.76 L493.46 685.78 L494.08 685.80 L494.70 685.82 L495.32 685.83 L495.95 685.85 L496.57 685.87 L497.19 685.89 L497.81 685.90 L498.44 685.92 L499.06 685.94 L499.68 685.96 L500.30 685.97 L500.93 685.99 L501.55 686.01 L502.17 686.02 L502.79 686.04 L503.42 686.05 L504.04 686.07 L504.66 686.08 L505.28 686.10 L505.91 686.11 L506.53 686.13 L507.15 686.14 L507.77 686.16 L508.40 686.17 L509.02 686.19 L509.64 686.20 L510.26 686.21 L510.89 686.23 L511.51 686.24 L512.13 686.25 L512.75 686.27 L513.38 686.28 L514.00 686.29 L514.62 686.30 L515.24 686.32 L515.87 686.33 L516.49 686.34 L517.11 686.35 L517.73 686.36 L518.36 686.38 L518.98 686.39 L519.60 686.40 L520.22 686.41 L520.85 686.42 L521.47 686.43 L522.09 686.44 L522.71 686.45 L523.34 686.47 L523.96 686.48 L524.58 686.49 L525.20 686.50 L525.83 686.51 L526.45 686.52 L527.07 686.53 L527.69 686.54 L528.32 686.55 L528.94 686.56 L529.56 686.56 L530.18 686.57 L530.81 686.58 L531.43 686.59 L532.05 686.60 L532.67 686.61 L533.30 686.62 L533.92 686.63 L534.54 686.64 L535.16 686.64 L535.79 686.65 L536.41 686.66 L537.03 686.67 L537.65 686.68 L538.28 686.68 L538.90 686.69 L539.52 686.70 L540.14 686.71 L540.77 686.72 L541.39 686.72 L542.01 686.73 L542.63 686.74 L543.25 686.74 L543.88 686.75 L544.50 686.76 L545.12 686.77 L545.75 686.77 L546.37 686.78 L546.99 686.79 L547.61 686.79 L548.24 686.80 L548.86 686.81 L549.48 686.81 L550.10 686.82 L550.73 686.82 L551.35 686.83 L551.97 686.84 L552.59 686.84 L553.22 686.85 L553.84 686.85 L554.46 686.86 L555.08 686.87 L555.71 686.87 L556.33 686.88 L556.95 686.88 L557.57 686.89 L558.20 686.89 L558.82 686.90 L559.44 686.90 L560.06 686.91 L560.69 686.91 L561.31 686.92 L561.93 686.92 L562.55 686.93 L563.18 686.93 L563.80 686.94 L564.42 686.94 L565.04 686.95 L565.67 686.95 L566.29 686.96 L566.91 686.96 L567.53 686.97 L568.16 686.97 L568.78 686.98 L569.40 686.98 L570.02 686.98 L570.65 686.99 L571.27 686.99 L571.89 687.00 L572.51 687.00 L573.14 687.00 L573.76 687.01 L574.38 687.01 L575.00 687.02 L575.63 687.02 L576.25 687.02 L576.87 687.03 L577.49 687.03 L578.12 687.04 L578.74 687.04 L579.36 687.04 L579.98 687.05 L580.61 687.05 L581.23 687.05 L581.85 687.06 L582.47 687.06 L583.10 687.06 L583.72 687.07 L584.34 687.07 L584.96 687.07 L585.59 687.08 L586.21 687.08 L586.83 687.08 L587.45 687.08 L588.08 687.09 L588.70 687.09 L589.32 687.09 L589.94 687.10 L590.57 687.10 L591.19 687.10 L591.81 687.11 L592.43 687.11 L593.06 687.11 L593.68 687.11 L594.30 687.12 L594.92 687.12 L595.55 687.12 L596.17 687.12 L596.79 687.13 L597.41 687.13 L598.04 687.13 L598.66 687.13 L599.28 687.14 L599.90 687.14 L600.53 687.14 L601.15 687.14 L601.77 687.15 L602.39 687.15 L603.02 687.15 L603.64 687.15 L604.26 687.15 L604.88 687.16 L605.51 687.16 L606.13 687.16 L606.75 687.16 L607.37 687.16 L608.00 687.17 L608.62 687.17 L609.24 687.17 L609.86 687.17 L610.49 687.17 L611.11 687.18 L611.73 687.18 L612.35 687.18 L612.98 687.18 L613.60 687.18 L614.22 687.19 L614.84 687.19 L615.47 687.19 L616.09 687.19 L616.71 687.19 L617.33 687.19 L617.96 687.20 L618.58 687.20 L619.20 687.20" stroke="#D95319" stroke-dasharray="4.45 2.95" stroke-dashoffset="1.86"/>
<path d="M229.33 1058.75 L229.52 1057.57 L229.70 1056.39 L229.88 1055.20 L230.06 1054.02 L230.24 1052.84 L230.42 1051.65 L230.59 1050.47 L230.77 1049.29 L230.94 1048.11 L231.11 1046.92 L231.29 1045.74 L231.46 1044.56 L231.62 1043.37 L231.79 1042.19 L231.96 1041.01 L232.12 1039.82 L232.29 1038.64 L232.45 1037.46 L232.61 1036.27 L232.77 1035.09 L232.93 1033.91 L233.09 1032.73 L233.25 1031.54 L233.40 1030.36 L233.56 1029.18 L233.71 1027.99 L233.87 1026.81 L234.02 1025.63 L234.17 1024.44 L234.32 1023.26 L234.47 1022.08 L234.62 1020.90 L234.76 1019.71 L234.91 1018.53 L235.06 1017.35 L235.20 1016.17 L235.34 1014.98 L235.49 1013.80 L235.63 1012.62 L235.77 1011.43 L235.91 1010.25 L236.05 1009.07 L236.19 1007.89 L236.33 1006.70 L236.47 1005.52 L236.60 1004.34 L236.74 1003.16 L236.87 1001.98 L237.01 1000.79 L237.14 999.61 L237.27 998.43 L237.41 997.25 L237.54 996.06 L237.67 994.88 L237.80 993.70 L237.93 992.52 L238.06 991.34 L238.19 990.15 L238.32 988.97 L238.44 987.79 L238.57 986.61 L238.70 985.43 L238.82 984.25 L238.95 983.06 L239.07 981.88 L239.20 980.70 L239.32 979.52 L239.45 978.34 L239.57 977.16 L239.69 975.97 L239.82 974.79 L239.94 973.61 L240.06 972.43 L240.18 971.25 L240.31 970.07 L240.43 968.89 L240.55 967.71 L240.67 966.53 L240.79 965.34 L240.91 964.16 L241.03 962.98 L241.15 961.80 L241.27 960.62 L241.39 959.44 L241.51 958.26 L241.62 957.08 L241.74 955.90 L241.86 954.72 L241.98 953.54 L242.10 952.36 L242.22 951.18 L242.34 950.00 L242.45 948.82 L242.57 947.64 L242.69 946.46 L242.81 945.28 L242.93 944.10 L243.05 942.92 L243.16 941.74 L243.28 940.56 L243.40 939.38 L243.52 938.20 L243.64 937.02 L243.76 935.84 L243.88 934.66 L243.99 933.49 L244.11 932.31 L244.23 931.13 L244.35 929.95 L244.47 928.77 L244.59 927.59 L244.71 926.41 L244.83 925.23 L244.95 924.06 L245.07 922.88 L245.19 921.70 L245.32 920.52 L245.44 919.34 L245.56 918.17 L245.68 916.99 L245.80 915.81 L245.93 914.63 L246.05 913.45 L246.18 912.28 L246.30 911.10 L246.42 909.92 L246.55 908.74 L246.68 907.57 L246.80 906.39 L246.93 905.21 L247.06 904.04 L247.18 902.86 L247.31 901.68 L247.44 900.51 L247.57 899.33 L247.70 898.15 L247.83 896.98 L247.96 895.80 L248.09 894.62 L248.23 893.45 L248.36 892.27 L248.49 891.10 L248.63 889.92 L248.76 888.75 L248.90 887.57 L249.03 886.39 L249.17 885.22 L249.31 884.04 L249.45 882.87 L249.59 881.69 L249.73 880.52 L249.87 879.34 L250.01 878.17 L250.15 877.00 L250.30 875.82 L250.44 874.65 L250.59 873.47 L250.73 872.30 L250.88 871.12 L251.03 869.95 L251.18 868.78 L251.33 867.60 L251.48 866.43 L251.63 865.26 L251.78 864.08 L251.94 862.91 L252.09 861.74 L252.25 860.56 L252.41 859.39 L252.57 858.22 L252.73 857.05 L252.89 855.87 L253.05 854.70 L253.21 853.53 L253.37 852.36 L253.54 851.18 L253.71 850.01 L253.87 848.84 L254.04 847.67 L254.21 846.50 L254.38 845.33 L254.55 844.16 L254.73 842.98 L254.90 841.81 L255.08 840.64 L255.26 839.47 L255.44 838.30 L255.62 837.13 L255.80 835.96 L255.98 834.79 L256.16 833.62 L256.35 832.45 L256.54 831.28 L256.73 830.11 L256.92 828.94 L257.11 827.77 L257.30 826.60 L257.49 825.44 L257.69 824.27 L257.89 823.10 L258.09 821.93 L258.29 820.76 L258.49 819.59 L258.69 818.42 L258.90 817.26 L259.10 816.09 L259.31 814.92 L259.52 813.75 L259.73 812.59 L259.95 811.42 L260.16 810.25 L260.38 809.08 L260.60 807.92 L260.82 806.75 L261.04 805.58 L261.26 804.42 L261.49 803.25 L261.72 802.09 L261.95 800.92 L262.18 799.75 L262.41 798.59 L262.64 797.42 L262.88 796.26 L263.12 795.09 L263.36 793.93 L263.60 792.76 L263.84 791.60 L264.09 790.43 L264.34 789.27 L264.59 788.11 L264.84 786.94 L265.09 785.78 L265.35 784.62 L265.61 783.45 L265.87 782.29 L266.13 781.13 L266.39 779.96 L266.66 778.80 L266.92 777.64 L267.19 776.47 L267.47 775.31 L267.74 774.15 L268.02 772.99 L268.30 771.83 L268.58 770.67 L268.86 769.50 L269.15 768.34 L269.43 767.18 L269.72 766.02 L270.01 764.86 L270.31 763.70 L270.60 762.54 L270.90 761.38 L271.20 760.22 L271.51 759.06 L271.81 757.90 L272.12 756.74 L272.43 755.58 L272.74 754.42 L273.06 753.26 L273.38 752.10 L273.70 750.95 L274.02 749.79 L274.34 748.63 L274.67 747.47 L275.00 746.31 L275.33 745.16 L275.67 744.00 L276.01 742.84 L276.35 741.69 L276.69 740.53 L277.03 739.37 L277.38 738.22 L277.73 737.06 L278.08 735.90 L278.44 734.75 L278.80 733.59 L279.16 732.44 L279.52 731.28 L279.89 730.13 L280.26 728.98 L280.64 727.83 L281.02 726.68 L281.40 725.53 L281.79 724.38 L282.18 723.24 L282.58 722.10 L282.98 720.96 L283.39 719.83 L283.80 718.69 L284.22 717.56 L284.65 716.44 L285.08 715.32 L285.52 714.20 L285.96 713.08 L286.41 711.97 L286.87 710.87 L287.34 709.77 L287.81 708.67 L288.29 707.58 L288.78 706.49 L289.28 705.41 L289.78 704.34 L290.30 703.27 L290.82 702.21 L291.35 701.15 L291.89 700.10 L292.44 699.06 L293.00 698.02 L293.57 697.00 L294.15 695.97 L294.74 694.96 L295.34 693.95 L295.96 692.96 L296.58 691.97 L297.21 690.98 L297.86 690.01 L298.51 689.05 L299.18 688.09 L299.86 687.15 L300.55 686.21 L301.26 685.28 L301.98 684.37 L302.71 683.46 L303.45 682.56 L304.21 681.68 L304.98 680.80 L305.76 679.94 L306.56 679.08 L307.37 678.24 L308.20 677.41 L309.04 676.59 L309.89 675.78 L310.76 674.99 L311.64 674.21 L312.54 673.44 L313.45 672.70 L314.37 671.96 L315.31 671.25 L316.26 670.55 L317.22 669.87 L318.19 669.20 L319.17 668.56 L320.17 667.94 L321.18 667.34 L322.20 666.76 L323.23 666.21 L324.27 665.67 L325.32 665.17 L326.38 664.68 L327.45 664.22 L328.53 663.79 L329.62 663.38 L330.72 662.99 L331.83 662.63 L332.94 662.29 L334.06 661.97 L335.19 661.67 L336.33 661.39 L337.47 661.14 L338.62 660.90 L339.77 660.69 L340.93 660.49 L342.09 660.31 L343.26 660.15 L344.43 660.01 L345.61 659.89 L346.79 659.79 L347.97 659.70 L349.16 659.63 L350.34 659.57 L351.53 659.53 L352.72 659.51 L353.91 659.50 L355.10 659.50 L356.30 659.52 L357.49 659.55 L358.68 659.59 L359.87 659.65 L361.06 659.72 L362.24 659.80 L363.43 659.89 L364.62 659.99 L365.80 660.11 L366.98 660.23 L368.16 660.36 L369.34 660.51 L370.52 660.66 L371.70 660.82 L372.88 660.99 L374.05 661.17 L375.23 661.36 L376.40 661.55 L377.58 661.75 L378.75 661.96 L379.92 662.17 L381.10 662.39 L382.27 662.62 L383.44 662.85 L384.61 663.09 L385.78 663.33 L386.94 663.58 L388.11 663.83 L389.28 664.08 L390.45 664.34 L391.61 664.60 L392.78 664.87 L393.95 665.13 L395.11 665.40 L396.28 665.67 L397.44 665.94 L398.61 666.21 L399.77 666.49 L400.94 666.76 L402.10 667.03 L403.27 667.31 L404.43 667.58 L405.60 667.85 L406.77 668.12 L407.93 668.39 L409.10 668.65 L410.26 668.92 L411.43 669.18 L412.60 669.43 L413.76 669.69 L414.93 669.94 L416.10 670.19 L417.26 670.44 L418.43 670.68 L419.60 670.92 L420.77 671.16 L421.94 671.40 L423.11 671.63 L424.27 671.86 L425.44 672.09 L426.61 672.31 L427.78 672.53 L428.95 672.75 L430.12 672.97 L431.30 673.18 L432.47 673.40 L433.64 673.60 L434.81 673.81 L435.98 674.02 L437.15 674.22 L438.32 674.42 L439.50 674.61 L440.67 674.81 L441.84 675.00 L443.02 675.19 L444.19 675.38 L445.36 675.56 L446.54 675.74 L447.71 675.92 L448.88 676.10 L450.06 676.28 L451.23 676.45 L452.41 676.62 L453.58 676.79 L454.76 676.96 L455.93 677.12 L457.11 677.28 L458.29 677.44 L459.46 677.60 L460.64 677.76 L461.82 677.91 L462.99 678.06 L464.17 678.21 L465.35 678.36 L466.52 678.50 L467.70 678.65 L468.88 678.79 L470.06 678.93 L471.23 679.07 L472.41 679.20 L473.59 679.34 L474.77 679.47 L475.95 679.60 L477.13 679.73 L478.31 679.85 L479.49 679.98 L480.67 680.10 L481.85 680.22 L483.03 680.34 L484.21 680.46 L485.39 680.57 L486.57 680.68 L487.75 680.80 L488.93 680.91 L490.11 681.02 L491.29 681.12 L492.47 681.23 L493.65 681.33 L494.83 681.43 L496.02 681.54 L497.20 681.63 L498.38 681.73 L499.56 681.83 L500.74 681.92 L501.93 682.02 L503.11 682.11 L504.29 682.20 L505.48 682.29 L506.66 682.38 L507.84 682.46 L509.02 682.55 L510.21 682.63 L511.39 682.71 L512.58 682.79 L513.76 682.87 L514.94 682.95 L516.13 683.03 L517.31 683.10 L518.50 683.18 L519.68 683.25 L520.86 683.32 L522.05 683.39 L523.23 683.46 L524.42 683.53 L525.60 683.60 L526.79 683.67 L527.97 683.73 L529.16 683.80 L530.34 683.86 L531.53 683.92 L532.72 683.98 L533.90 684.04 L535.09 684.10 L536.27 684.16 L537.46 684.22 L538.64 684.28 L539.83 684.33 L541.02 684.39 L542.20 684.44 L543.39 684.49 L544.58 684.55 L545.76 684.60 L546.95 684.65 L548.14 684.70 L549.32 684.75 L550.51 684.80 L551.70 684.85 L552.88 684.89 L554.07 684.94 L555.26 684.99 L556.44 685.03 L557.63 685.08 L558.82 685.12 L560.01 685.16 L561.19 685.21 L562.38 685.25 L563.57 685.29 L564.76 685.33 L565.94 685.37 L567.13 685.41 L568.32 685.45 L569.51 685.49 L570.69 685.53 L571.88 685.57 L573.07 685.61 L574.26 685.65 L575.45 685.69 L576.63 685.72 L577.82 685.76 L579.01 685.80 L580.20 685.83 L581.39 685.87 L582.57 685.91 L583.76 685.94 L584.95 685.98 L586.14 686.02 L587.33 686.05 L588.51 686.09 L589.70 686.12 L590.89 686.16 L592.08 686.19 L593.27 686.23 L594.46 686.26 L595.64 686.30 L596.83 686.33 L598.02 686.37 L599.21 686.40 L600.40 686.44 L601.58 686.47 L602.77 686.51 L603.96 686.54 L605.15 686.58 L606.34 686.62 L607.53 686.65 L608.71 686.69 L609.90 686.72 L611.09 686.76 L612.28 686.80 L613.47 686.83 L614.65 686.87 L615.84 686.91 L617.03 686.95 L618.22 686.99 L619.41 687.02" stroke="#000000" stroke-dasharray="4.45 2.95" stroke-dashoffset="3.62"/>
</g>
<path d="M121.2 971.3 V99.4" stroke="#000" stroke-width="1.2" fill="none"/>
<path d="M121.2 971.3 H615.2" stroke="#000" stroke-width="1.2" fill="none"/>
<path d="M619.2 971.3 L609.6 966.5 L613.0 971.3 L609.6 976.0999999999999 Z" fill="#000"/>
<path d="M121.2 95.4 L116.4 105.0 L121.2 101.6 L126.0 105.0 Z" fill="#000"/>
<g font-family="Liberation Serif, serif" fill="#000">
<text transform="translate(120.60 25.10) scale(1.1388 1.0000)" font-size="35.2" font-weight="bold">References</text>
<text transform="translate(319.73 25.10) scale(1.1056 1.0000)" font-size="35.2" font-weight="bold">and</text>
<text transform="translate(396.20 25.10) scale(1.1374 1.0000)" font-size="35.2" font-weight="bold">output</text>
<text transform="translate(529.86 25.10) scale(1.0677 1.0000)" font-size="33.5" font-style="italic">y</text>
<text transform="translate(545.49 29.60) scale(0.9096 1.0000)" font-size="24.5">1</text>
<text transform="translate(572.65 25.10) scale(0.9920 1.0000)" font-size="35.2" font-weight="bold">for</text>
<text transform="translate(101.30 60.30) scale(1.1355 1.0000)" font-size="35.2" font-weight="bold">communication</text>
<text transform="translate(384.00 60.30) scale(1.0684 1.0000)" font-size="35.2" font-weight="bold">variants</text>
<text transform="translate(530.30 60.30) scale(1.1364 1.0000)" font-size="35.2" font-weight="bold">1,</text>
<text transform="translate(574.62 60.30) scale(1.1194 1.0000)" font-size="35.2" font-weight="bold">2,</text>
<text transform="translate(618.45 60.30) scale(1.2421 1.0000)" font-size="35.2" font-weight="bold">3</text>
<text transform="translate(88.71 981.50) scale(1.0565 1.0000)" font-size="31">7</text>
<text transform="translate(65.01 893.91) scale(1.0570 1.0000)" font-size="31">7.1</text>
<text transform="translate(65.01 806.32) scale(1.0570 1.0000)" font-size="31">7.2</text>
<text transform="translate(65.05 718.73) scale(1.0385 1.0000)" font-size="31">7.3</text>
<text transform="translate(65.09 631.14) scale(1.0206 1.0000)" font-size="31">7.4</text>
<text transform="translate(65.05 543.55) scale(1.0385 1.0000)" font-size="31">7.5</text>
<text transform="translate(65.07 455.96) scale(1.0295 1.0000)" font-size="31">7.6</text>
<text transform="translate(65.07 368.37) scale(1.0295 1.0000)" font-size="31">7.7</text>
<text transform="translate(65.05 280.78) scale(1.0385 1.0000)" font-size="31">7.8</text>
<text transform="translate(65.05 193.19) scale(1.0385 1.0000)" font-size="31">7.9</text>
<text transform="translate(89.36 105.60) scale(0.9985 1.0000)" font-size="31">8</text>
<text transform="translate(112.75 1007.60) scale(1.0906 1.0000)" font-size="31">0</text>
<text transform="translate(229.97 1007.60) scale(1.0159 1.0000)" font-size="31">10</text>
<text transform="translate(355.30 1007.60) scale(0.9712 1.0000)" font-size="31">20</text>
<text transform="translate(479.47 1007.60) scale(0.9890 1.0000)" font-size="31">30</text>
<text transform="translate(604.40 1007.60) scale(0.9712 1.0000)" font-size="31">40</text>
<text transform="translate(331.35 1047.80) scale(0.9148 1.0000)" font-size="37" font-style="italic">t</text>
<text transform="translate(355.07 1047.80) scale(1.1097 1.0000)" font-size="33">in</text>
<text transform="translate(395.18 1047.80) scale(1.1535 1.0000)" font-size="33">s</text>
<text transform="translate(27.00 566.04) rotate(-90) scale(0.9785 1.0000)" font-size="34" font-style="italic">y</text>
<text transform="translate(32.20 551.66) rotate(-90) scale(1.0000 1.0000)" font-size="24">1</text>
<text transform="translate(27.00 535.49) rotate(-90) scale(0.8077 1.0000)" font-size="40">(</text>
<text transform="translate(27.00 525.31) rotate(-90) scale(1.1538 1.0000)" font-size="37" font-style="italic">t</text>
<text transform="translate(27.00 510.47) rotate(-90) scale(0.8077 1.0000)" font-size="40">)</text>
<rect x="334.5" y="95.85" width="284.20000000000005" height="363.35" fill="#fff" stroke="#000" stroke-width="1.2"/>
<path d="M345 121.4 H396" stroke="#0072BD" stroke-width="4.45" fill="none"/>
<text transform="translate(403.95 130.90) scale(1.0168 1.0000)" font-size="34.5" font-style="italic">w</text>
<text transform="translate(428.62 135.60) scale(1.2444 1.0000)" font-size="23.5">H</text>
<text transform="translate(448.43 135.60) scale(1.1348 1.0000)" font-size="23.5">,</text>
<text transform="translate(453.38 135.60) scale(1.1915 1.0000)" font-size="23.5">1</text>
<text transform="translate(479.33 130.90) scale(1.0734 1.0000)" font-size="34.3">comm.</text>
<text transform="translate(586.27 130.90) scale(0.9365 1.0000)" font-size="36">1</text>
<path d="M345 160.5 H396" stroke="#D95319" stroke-width="4.45" fill="none"/>
<text transform="translate(403.95 170.00) scale(1.0168 1.0000)" font-size="34.5" font-style="italic">w</text>
<text transform="translate(429.22 174.70) scale(1.2036 1.0000)" font-size="23.5">A</text>
<text transform="translate(448.43 174.70) scale(1.1348 1.0000)" font-size="23.5">,</text>
<text transform="translate(453.38 174.70) scale(1.1915 1.0000)" font-size="23.5">1</text>
<text transform="translate(479.33 170.00) scale(1.0734 1.0000)" font-size="34.3">comm.</text>
<text transform="translate(586.27 170.00) scale(0.9365 1.0000)" font-size="36">1</text>
<path d="M345 199.6 H396" stroke="#000000" stroke-width="4.45" fill="none"/>
<text transform="translate(423.03 209.10) scale(1.0256 1.0000)" font-size="34.5" font-style="italic">y</text>
<text transform="translate(437.66 213.90) scale(1.0578 1.0000)" font-size="23.5">1</text>
<text transform="translate(462.53 209.10) scale(1.0690 1.0000)" font-size="34.3">comm.</text>
<text transform="translate(569.27 209.10) scale(0.9365 1.0000)" font-size="36">1</text>
<path d="M345 238.7 H396" stroke="#0072BD" stroke-width="4.45" stroke-dasharray="8.88 8.87" fill="none"/>
<text transform="translate(403.95 248.20) scale(1.0168 1.0000)" font-size="34.5" font-style="italic">w</text>
<text transform="translate(428.62 252.90) scale(1.2444 1.0000)" font-size="23.5">H</text>
<text transform="translate(448.43 252.90) scale(1.1348 1.0000)" font-size="23.5">,</text>
<text transform="translate(453.38 252.90) scale(1.1915 1.0000)" font-size="23.5">1</text>
<text transform="translate(479.33 248.20) scale(1.0734 1.0000)" font-size="34.3">comm.</text>
<text transform="translate(585.89 248.20) scale(1.0486 1.0000)" font-size="36">2</text>
<path d="M345 277.8 H396" stroke="#D95319" stroke-width="4.45" stroke-dasharray="8.88 8.87" fill="none"/>
<text transform="translate(403.95 287.30) scale(1.0168 1.0000)" font-size="34.5" font-style="italic">w</text>
<text transform="translate(429.22 292.00) scale(1.2036 1.0000)" font-size="23.5">A</text>
<text transform="translate(448.43 292.00) scale(1.1348 1.0000)" font-size="23.5">,</text>
<text transform="translate(453.38 292.00) scale(1.1915 1.0000)" font-size="23.5">1</text>
<text transform="translate(479.33 287.30) scale(1.0734 1.0000)" font-size="34.3">comm.</text>
<text transform="translate(585.89 287.30) scale(1.0486 1.0000)" font-size="36">2</text>
<path d="M345 316.9 H396" stroke="#000000" stroke-width="4.45" stroke-dasharray="8.88 8.87" fill="none"/>
<text transform="translate(423.03 326.40) scale(1.0256 1.0000)" font-size="34.5" font-style="italic">y</text>
<text transform="translate(437.66 331.20) scale(1.0578 1.0000)" font-size="23.5">1</text>
<text transform="translate(462.53 326.40) scale(1.0690 1.0000)" font-size="34.3">comm.</text>
<text transform="translate(568.89 326.40) scale(1.0486 1.0000)" font-size="36">2</text>
<path d="M345 356.0 H396" stroke="#0072BD" stroke-width="4.45" stroke-dasharray="4.45 2.95" fill="none"/>
<text transform="translate(403.95 365.50) scale(1.0168 1.0000)" font-size="34.5" font-style="italic">w</text>
<text transform="translate(428.62 370.20) scale(1.2444 1.0000)" font-size="23.5">H</text>
<text transform="translate(448.43 370.20) scale(1.1348 1.0000)" font-size="23.5">,</text>
<text transform="translate(453.38 370.20) scale(1.1915 1.0000)" font-size="23.5">1</text>
<text transform="translate(479.33 365.50) scale(1.0734 1.0000)" font-size="34.3">comm.</text>
<text transform="translate(585.77 365.50) scale(1.0163 1.0000)" font-size="36">3</text>
<path d="M345 395.1 H396" stroke="#D95319" stroke-width="4.45" stroke-dasharray="4.45 2.95" fill="none"/>
<text transform="translate(403.95 404.60) scale(1.0168 1.0000)" font-size="34.5" font-style="italic">w</text>
<text transform="translate(429.22 409.30) scale(1.2036 1.0000)" font-size="23.5">A</text>
<text transform="translate(448.43 409.30) scale(1.1348 1.0000)" font-size="23.5">,</text>
<text transform="translate(453.38 409.30) scale(1.1915 1.0000)" font-size="23.5">1</text>
<text transform="translate(479.33 404.60) scale(1.0734 1.0000)" font-size="34.3">comm.</text>
<text transform="translate(585.77 404.60) scale(1.0163 1.0000)" font-size="36">3</text>
<path d="M345 434.2 H396" stroke="#000000" stroke-width="4.45" stroke-dasharray="4.45 2.95" fill="none"/>
<text transform="translate(423.03 443.70) scale(1.0256 1.0000)" font-size="34.5" font-style="italic">y</text>
<text transform="translate(437.66 448.50) scale(1.0578 1.0000)" font-size="23.5">1</text>
<text transform="translate(462.53 443.70) scale(1.0690 1.0000)" font-size="34.3">comm.</text>
<text transform="translate(568.77 443.70) scale(1.0163 1.0000)" font-size="36">3</text>
</g>
</svg>
</body></html>
